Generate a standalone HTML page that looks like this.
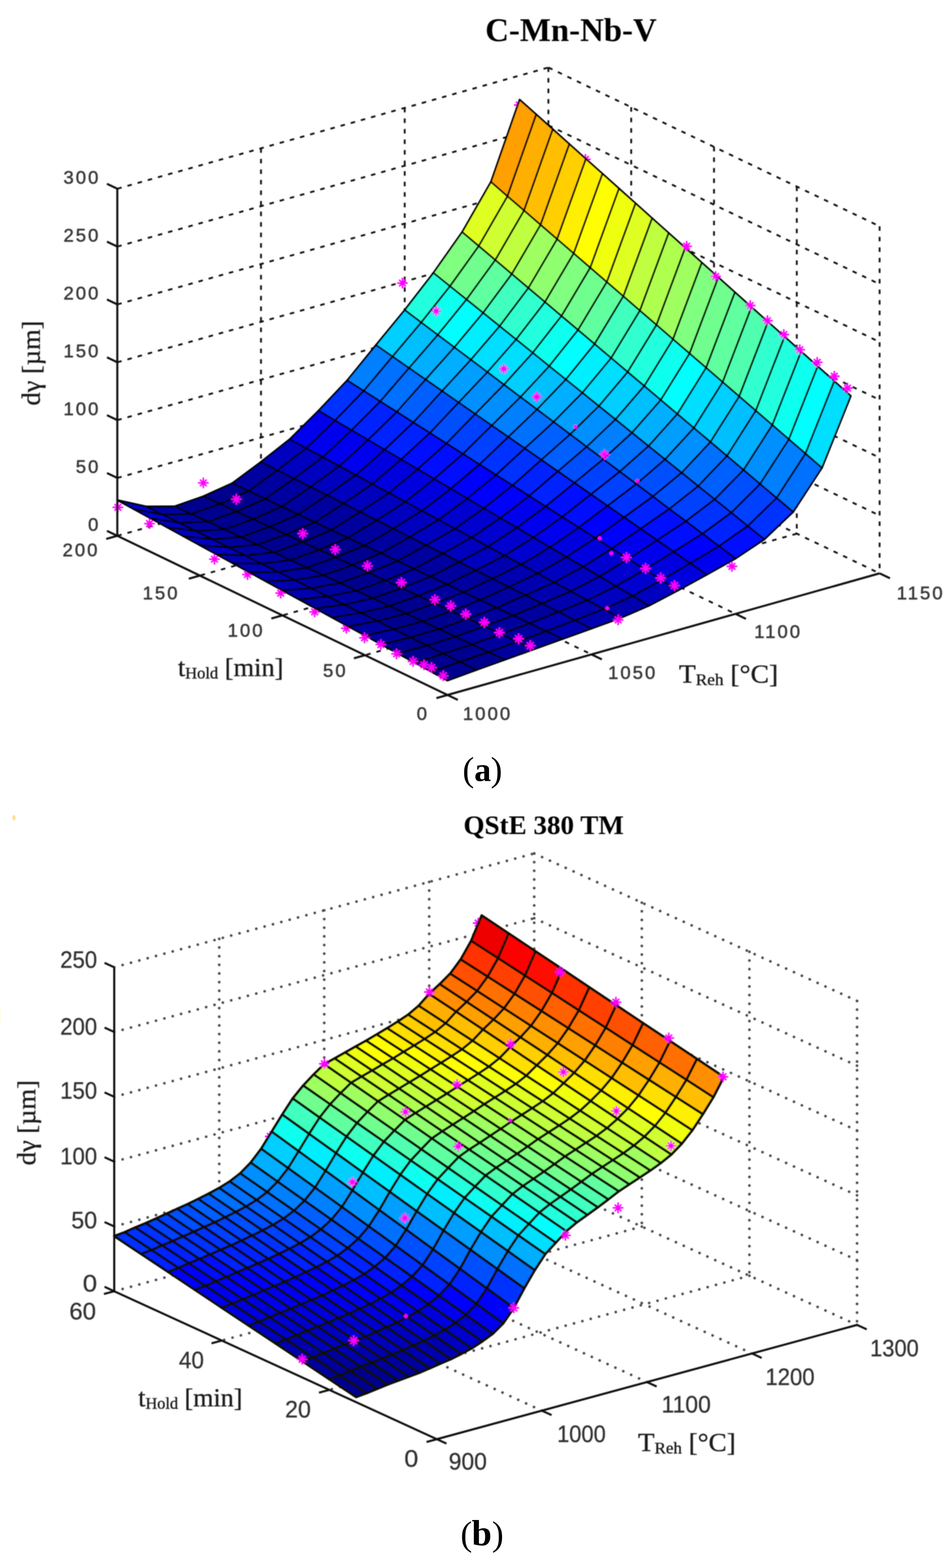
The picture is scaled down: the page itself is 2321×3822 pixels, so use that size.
<!DOCTYPE html>
<html><head><meta charset="utf-8"><title>Austenite grain size surfaces</title>
<style>
html,body{margin:0;padding:0;background:#fff;}
body{width:2321px;height:3822px;overflow:hidden;}
svg{display:block;}
.ga{stroke:#111;stroke-width:4.4;stroke-dasharray:11 14.7;fill:none;}
.gb{stroke:#4a4a4a;stroke-width:6.4;stroke-dasharray:0.1 21;stroke-linecap:round;fill:none;}
.ax{stroke:#111;stroke-width:5;fill:none;stroke-linecap:butt;}
.fa polygon{stroke:#000;stroke-width:4.4;stroke-linejoin:round;}
.fb polygon{stroke:#0a0f05;stroke-width:6;stroke-linejoin:round;}
.mk{stroke:#ff00ff;stroke-width:3.8;fill:none;stroke-linecap:butt;}
text{font-family:"Liberation Sans",sans-serif;fill:#333;}
.ta{font-size:45px;letter-spacing:5px;fill:#3a3a3a;stroke:#3a3a3a;stroke-width:1.1px;}
.tb{font-size:57px;fill:#333;stroke:#333;stroke-width:0.6px;}
.lab{font-family:"Liberation Serif",serif;font-size:64px;fill:#1a1a1a;stroke:#1a1a1a;stroke-width:0.7px;}
.sub{font-size:40px;}
.ttl{font-family:"Liberation Serif",serif;font-weight:bold;fill:#000;}
.cap{font-family:"Liberation Serif",serif;font-size:78px;fill:#000;}
</style></head>
<body>
<svg xmlns="http://www.w3.org/2000/svg" width="2321" height="3822" viewBox="0 0 2321 3822">
<rect width="2321" height="3822" fill="#fff"/>
<defs><filter id="bl" x="0" y="0" width="2321" height="3822" filterUnits="userSpaceOnUse"><feGaussianBlur stdDeviation="1.2"/></filter></defs>
<g filter="url(#bl)">
<g id="plotA">
<line class="ga" x1="286.0" y1="1306.0" x2="1337.0" y2="1010.5"/>
<line class="ga" x1="1337.0" y1="1010.5" x2="2144.5" y2="1397.5"/>
<line class="ga" x1="286.0" y1="1165.0" x2="1337.0" y2="869.5"/>
<line class="ga" x1="1337.0" y1="869.5" x2="2144.5" y2="1256.5"/>
<line class="ga" x1="286.0" y1="1024.0" x2="1337.0" y2="728.5"/>
<line class="ga" x1="1337.0" y1="728.5" x2="2144.5" y2="1115.5"/>
<line class="ga" x1="286.0" y1="883.0" x2="1337.0" y2="587.5"/>
<line class="ga" x1="1337.0" y1="587.5" x2="2144.5" y2="974.5"/>
<line class="ga" x1="286.0" y1="742.0" x2="1337.0" y2="446.5"/>
<line class="ga" x1="1337.0" y1="446.5" x2="2144.5" y2="833.5"/>
<line class="ga" x1="286.0" y1="601.0" x2="1337.0" y2="305.5"/>
<line class="ga" x1="1337.0" y1="305.5" x2="2144.5" y2="692.5"/>
<line class="ga" x1="286.0" y1="460.0" x2="1337.0" y2="164.5"/>
<line class="ga" x1="1337.0" y1="164.5" x2="2144.5" y2="551.5"/>
<line class="ga" x1="636.3" y1="361.5" x2="636.3" y2="1207.5"/>
<line class="ga" x1="636.3" y1="1207.5" x2="1442.2" y2="1595.2"/>
<line class="ga" x1="986.7" y1="263.0" x2="986.7" y2="1109.0"/>
<line class="ga" x1="986.7" y1="1109.0" x2="1793.3" y2="1496.3"/>
<line class="ga" x1="1337.0" y1="164.5" x2="1337.0" y2="1010.5"/>
<line class="ga" x1="2144.5" y1="551.5" x2="2144.5" y2="1397.5"/>
<line class="ga" x1="1942.6" y1="454.8" x2="1942.6" y2="1300.8"/>
<line class="ga" x1="1942.6" y1="1300.8" x2="889.8" y2="1597.0"/>
<line class="ga" x1="1740.8" y1="358.0" x2="1740.8" y2="1204.0"/>
<line class="ga" x1="1740.8" y1="1204.0" x2="688.5" y2="1500.0"/>
<line class="ga" x1="1538.9" y1="261.2" x2="1538.9" y2="1107.2"/>
<line class="ga" x1="1538.9" y1="1107.2" x2="487.2" y2="1403.0"/>
<path class="mk" d="M274.4 1236.6H300.4M287.4 1223.6V1249.6M279.3 1228.5L295.5 1244.7M279.3 1244.7L295.5 1228.5"/>
<circle cx="287.4" cy="1236.6" r="4.7" fill="#ff00ff"/>
<path class="mk" d="M351.6 1276.3H377.6M364.6 1263.3V1289.3M356.5 1268.2L372.7 1284.4M356.5 1284.4L372.7 1268.2"/>
<circle cx="364.6" cy="1276.3" r="4.7" fill="#ff00ff"/>
<path class="mk" d="M509.8 1362.9H535.8M522.8 1349.9V1375.9M514.7 1354.8L530.9 1371.0M514.7 1371.0L530.9 1354.8"/>
<circle cx="522.8" cy="1362.9" r="4.7" fill="#ff00ff"/>
<path class="mk" d="M590.3 1400.4H616.3M603.3 1387.4V1413.4M595.2 1392.3L611.4 1408.5M595.2 1408.5L611.4 1392.3"/>
<circle cx="603.3" cy="1400.4" r="4.7" fill="#ff00ff"/>
<path class="mk" d="M671.3 1445.7H697.3M684.3 1432.7V1458.7M676.2 1437.6L692.4 1453.8M676.2 1453.8L692.4 1437.6"/>
<circle cx="684.3" cy="1445.7" r="4.7" fill="#ff00ff"/>
<path class="mk" d="M754.1 1491.6H780.1M767.1 1478.6V1504.6M759.0 1483.5L775.2 1499.7M759.0 1499.7L775.2 1483.5"/>
<circle cx="767.1" cy="1491.6" r="4.7" fill="#ff00ff"/>
<path class="mk" d="M831.3 1531.4H857.3M844.3 1518.4V1544.4M836.2 1523.3L852.4 1539.5M836.2 1539.5L852.4 1523.3"/>
<circle cx="844.3" cy="1531.4" r="4.7" fill="#ff00ff"/>
<path class="mk" d="M1771.5 1380.5H1797.5M1784.5 1367.5V1393.5M1776.4 1372.4L1792.6 1388.6M1776.4 1388.6L1792.6 1372.4"/>
<circle cx="1784.5" cy="1380.5" r="4.7" fill="#ff00ff"/>
<path class="mk" d="M1253.0 256.0H1279.0M1266.0 243.0V269.0M1257.9 247.9L1274.1 264.1M1257.9 264.1L1274.1 247.9"/>
<circle cx="1266.0" cy="256.0" r="4.7" fill="#ff00ff"/>
<path class="mk" d="M1414.3 388.4H1440.3M1427.3 375.4V401.4M1419.2 380.3L1435.4 396.5M1419.2 396.5L1435.4 380.3"/>
<circle cx="1427.3" cy="388.4" r="4.7" fill="#ff00ff"/>
<g class="fa"><polygon fill="#ff9f00" points="1237.2,478.3 1307.3,278.9 1266.9,242.8 1196.9,443.4"/><polygon fill="#ffaf00" points="1277.6,513.1 1347.7,315.0 1307.3,278.9 1237.2,478.3"/><polygon fill="#ffbf00" points="1317.9,548.0 1388.0,351.2 1347.7,315.0 1277.6,513.1"/><polygon fill="#ffcf00" points="1358.3,582.8 1428.4,387.3 1388.0,351.2 1317.9,548.0"/><polygon fill="#ffef00" points="1398.7,617.7 1468.8,423.4 1428.4,387.3 1358.3,582.8"/><polygon fill="#ffff00" points="1439.0,652.5 1509.1,459.5 1468.8,423.4 1398.7,617.7"/><polygon fill="#efff10" points="1479.4,687.4 1549.5,495.6 1509.1,459.5 1439.0,652.5"/><polygon fill="#dfff20" points="1519.7,722.2 1589.9,531.8 1549.5,495.6 1479.4,687.4"/><polygon fill="#bfff40" points="1560.1,757.1 1630.2,567.9 1589.9,531.8 1519.7,722.2"/><polygon fill="#afff50" points="1600.5,791.9 1670.6,604.0 1630.2,567.9 1560.1,757.1"/><polygon fill="#9fff60" points="1640.8,826.8 1711.0,640.1 1670.6,604.0 1600.5,791.9"/><polygon fill="#80ff80" points="1681.2,861.6 1751.3,676.2 1711.0,640.1 1640.8,826.8"/><polygon fill="#70ff8f" points="1721.5,896.4 1791.7,712.4 1751.3,676.2 1681.2,861.6"/><polygon fill="#60ff9f" points="1761.9,931.3 1832.1,748.5 1791.7,712.4 1721.5,896.4"/><polygon fill="#50ffaf" points="1802.2,966.1 1872.4,784.6 1832.1,748.5 1761.9,931.3"/><polygon fill="#30ffcf" points="1842.6,1001.0 1912.8,820.7 1872.4,784.6 1802.2,966.1"/><polygon fill="#20ffdf" points="1883.0,1035.8 1953.2,856.8 1912.8,820.7 1842.6,1001.0"/><polygon fill="#10ffef" points="1923.3,1070.7 1993.5,893.0 1953.2,856.8 1883.0,1035.8"/><polygon fill="#00ffff" points="1963.7,1105.5 2033.9,929.1 1993.5,893.0 1923.3,1070.7"/><polygon fill="#00dfff" points="2004.0,1140.4 2074.3,965.2 2033.9,929.1 1963.7,1105.5"/><polygon fill="#dfff20" points="1167.2,599.7 1237.2,478.3 1196.9,443.4 1126.8,565.6"/><polygon fill="#cfff30" points="1207.5,633.8 1277.6,513.1 1237.2,478.3 1167.2,599.7"/><polygon fill="#bfff40" points="1247.8,667.9 1317.9,548.0 1277.6,513.1 1207.5,633.8"/><polygon fill="#9fff60" points="1288.2,702.0 1358.3,582.8 1317.9,548.0 1247.8,667.9"/><polygon fill="#8fff70" points="1328.6,736.1 1398.7,617.7 1358.3,582.8 1288.2,702.0"/><polygon fill="#80ff80" points="1368.9,770.2 1439.0,652.5 1398.7,617.7 1328.6,736.1"/><polygon fill="#70ff8f" points="1409.2,804.3 1479.4,687.4 1439.0,652.5 1368.9,770.2"/><polygon fill="#60ff9f" points="1449.6,838.5 1519.7,722.2 1479.4,687.4 1409.2,804.3"/><polygon fill="#40ffbf" points="1490.0,872.6 1560.1,757.1 1519.7,722.2 1449.6,838.5"/><polygon fill="#30ffcf" points="1530.3,906.7 1600.5,791.9 1560.1,757.1 1490.0,872.6"/><polygon fill="#20ffdf" points="1570.7,940.8 1640.8,826.8 1600.5,791.9 1530.3,906.7"/><polygon fill="#10ffef" points="1611.0,974.9 1681.2,861.6 1640.8,826.8 1570.7,940.8"/><polygon fill="#00ffff" points="1651.3,1009.0 1721.5,896.4 1681.2,861.6 1611.0,974.9"/><polygon fill="#00dfff" points="1691.7,1043.1 1761.9,931.3 1721.5,896.4 1651.3,1009.0"/><polygon fill="#00cfff" points="1732.1,1077.2 1802.2,966.1 1761.9,931.3 1691.7,1043.1"/><polygon fill="#00bfff" points="1772.4,1111.3 1842.6,1001.0 1802.2,966.1 1732.1,1077.2"/><polygon fill="#00afff" points="1812.8,1145.5 1883.0,1035.8 1842.6,1001.0 1772.4,1111.3"/><polygon fill="#008fff" points="1853.1,1179.6 1923.3,1070.7 1883.0,1035.8 1812.8,1145.5"/><polygon fill="#0080ff" points="1893.4,1213.7 1963.7,1105.5 1923.3,1070.7 1853.1,1179.6"/><polygon fill="#0070ff" points="1933.8,1247.8 2004.0,1140.4 1963.7,1105.5 1893.4,1213.7"/><polygon fill="#80ff80" points="1097.1,697.6 1167.2,599.7 1126.8,565.6 1056.7,665.1"/><polygon fill="#70ff8f" points="1137.4,730.0 1207.5,633.8 1167.2,599.7 1097.1,697.6"/><polygon fill="#60ff9f" points="1177.8,762.5 1247.8,667.9 1207.5,633.8 1137.4,730.0"/><polygon fill="#40ffbf" points="1218.1,795.0 1288.2,702.0 1247.8,667.9 1177.8,762.5"/><polygon fill="#30ffcf" points="1258.4,827.4 1328.6,736.1 1288.2,702.0 1218.1,795.0"/><polygon fill="#20ffdf" points="1298.8,859.9 1368.9,770.2 1328.6,736.1 1258.4,827.4"/><polygon fill="#10ffef" points="1339.1,892.4 1409.2,804.3 1368.9,770.2 1298.8,859.9"/><polygon fill="#00ffff" points="1379.5,924.9 1449.6,838.5 1409.2,804.3 1339.1,892.4"/><polygon fill="#00efff" points="1419.8,957.3 1490.0,872.6 1449.6,838.5 1379.5,924.9"/><polygon fill="#00dfff" points="1460.1,989.8 1530.3,906.7 1490.0,872.6 1419.8,957.3"/><polygon fill="#00cfff" points="1500.5,1022.3 1570.7,940.8 1530.3,906.7 1460.1,989.8"/><polygon fill="#00bfff" points="1540.8,1054.8 1611.0,974.9 1570.7,940.8 1500.5,1022.3"/><polygon fill="#00afff" points="1581.2,1087.2 1651.3,1009.0 1611.0,974.9 1540.8,1054.8"/><polygon fill="#009fff" points="1621.5,1119.7 1691.7,1043.1 1651.3,1009.0 1581.2,1087.2"/><polygon fill="#008fff" points="1661.9,1152.2 1732.1,1077.2 1691.7,1043.1 1621.5,1119.7"/><polygon fill="#0070ff" points="1702.2,1184.7 1772.4,1111.3 1732.1,1077.2 1661.9,1152.2"/><polygon fill="#0060ff" points="1742.5,1217.1 1812.8,1145.5 1772.4,1111.3 1702.2,1184.7"/><polygon fill="#0050ff" points="1782.9,1249.6 1853.1,1179.6 1812.8,1145.5 1742.5,1217.1"/><polygon fill="#0040ff" points="1823.2,1282.1 1893.4,1213.7 1853.1,1179.6 1782.9,1249.6"/><polygon fill="#0030ff" points="1863.6,1314.6 1933.8,1247.8 1893.4,1213.7 1823.2,1282.1"/><polygon fill="#20ffdf" points="1027.0,785.9 1097.1,697.6 1056.7,665.1 986.7,755.6"/><polygon fill="#10ffef" points="1067.3,816.2 1137.4,730.0 1097.1,697.6 1027.0,785.9"/><polygon fill="#00ffff" points="1107.7,846.5 1177.8,762.5 1137.4,730.0 1067.3,816.2"/><polygon fill="#00efff" points="1148.0,876.8 1218.1,795.0 1177.8,762.5 1107.7,846.5"/><polygon fill="#00dfff" points="1188.3,907.1 1258.4,827.4 1218.1,795.0 1148.0,876.8"/><polygon fill="#00dfff" points="1228.7,937.4 1298.8,859.9 1258.4,827.4 1188.3,907.1"/><polygon fill="#00cfff" points="1269.0,967.7 1339.1,892.4 1298.8,859.9 1228.7,937.4"/><polygon fill="#00bfff" points="1309.3,998.0 1379.5,924.9 1339.1,892.4 1269.0,967.7"/><polygon fill="#00afff" points="1349.7,1028.3 1419.8,957.3 1379.5,924.9 1309.3,998.0"/><polygon fill="#009fff" points="1390.0,1058.6 1460.1,989.8 1419.8,957.3 1349.7,1028.3"/><polygon fill="#008fff" points="1430.3,1088.9 1500.5,1022.3 1460.1,989.8 1390.0,1058.6"/><polygon fill="#0080ff" points="1470.7,1119.2 1540.8,1054.8 1500.5,1022.3 1430.3,1088.9"/><polygon fill="#0070ff" points="1511.0,1149.5 1581.2,1087.2 1540.8,1054.8 1470.7,1119.2"/><polygon fill="#0060ff" points="1551.3,1179.8 1621.5,1119.7 1581.2,1087.2 1511.0,1149.5"/><polygon fill="#0050ff" points="1591.7,1210.1 1661.9,1152.2 1621.5,1119.7 1551.3,1179.8"/><polygon fill="#0050ff" points="1632.0,1240.4 1702.2,1184.7 1661.9,1152.2 1591.7,1210.1"/><polygon fill="#0040ff" points="1672.3,1270.6 1742.5,1217.1 1702.2,1184.7 1632.0,1240.4"/><polygon fill="#0030ff" points="1712.7,1300.9 1782.9,1249.6 1742.5,1217.1 1672.3,1270.6"/><polygon fill="#0020ff" points="1753.0,1331.2 1823.2,1282.1 1782.9,1249.6 1712.7,1300.9"/><polygon fill="#0010ff" points="1793.3,1361.5 1863.6,1314.6 1823.2,1282.1 1753.0,1331.2"/><polygon fill="#00cfff" points="956.9,869.0 1027.0,785.9 986.7,755.6 916.6,841.0"/><polygon fill="#00bfff" points="997.2,897.0 1067.3,816.2 1027.0,785.9 956.9,869.0"/><polygon fill="#00afff" points="1037.6,925.0 1107.7,846.5 1067.3,816.2 997.2,897.0"/><polygon fill="#00afff" points="1077.9,953.0 1148.0,876.8 1107.7,846.5 1037.6,925.0"/><polygon fill="#009fff" points="1118.2,981.0 1188.3,907.1 1148.0,876.8 1077.9,953.0"/><polygon fill="#008fff" points="1158.5,1009.0 1228.7,937.4 1188.3,907.1 1118.2,981.0"/><polygon fill="#008fff" points="1198.9,1037.0 1269.0,967.7 1228.7,937.4 1158.5,1009.0"/><polygon fill="#0080ff" points="1239.2,1064.9 1309.3,998.0 1269.0,967.7 1198.9,1037.0"/><polygon fill="#0070ff" points="1279.5,1092.9 1349.7,1028.3 1309.3,998.0 1239.2,1064.9"/><polygon fill="#0060ff" points="1319.8,1120.9 1390.0,1058.6 1349.7,1028.3 1279.5,1092.9"/><polygon fill="#0060ff" points="1360.2,1148.9 1430.3,1088.9 1390.0,1058.6 1319.8,1120.9"/><polygon fill="#0050ff" points="1400.5,1176.9 1470.7,1119.2 1430.3,1088.9 1360.2,1148.9"/><polygon fill="#0040ff" points="1440.8,1204.9 1511.0,1149.5 1470.7,1119.2 1400.5,1176.9"/><polygon fill="#0040ff" points="1481.1,1232.9 1551.3,1179.8 1511.0,1149.5 1440.8,1204.9"/><polygon fill="#0030ff" points="1521.5,1260.9 1591.7,1210.1 1551.3,1179.8 1481.1,1232.9"/><polygon fill="#0020ff" points="1561.8,1288.9 1632.0,1240.4 1591.7,1210.1 1521.5,1260.9"/><polygon fill="#0010ff" points="1602.1,1316.9 1672.3,1270.6 1632.0,1240.4 1561.8,1288.9"/><polygon fill="#0010ff" points="1642.5,1344.9 1712.7,1300.9 1672.3,1270.6 1602.1,1316.9"/><polygon fill="#0000ff" points="1682.8,1372.9 1753.0,1331.2 1712.7,1300.9 1642.5,1344.9"/><polygon fill="#0000ef" points="1723.1,1400.9 1793.3,1361.5 1753.0,1331.2 1682.8,1372.9"/><polygon fill="#0080ff" points="886.8,952.7 956.9,869.0 916.6,841.0 846.5,927.1"/><polygon fill="#0070ff" points="927.2,978.3 997.2,897.0 956.9,869.0 886.8,952.7"/><polygon fill="#0070ff" points="967.5,1003.9 1037.6,925.0 997.2,897.0 927.2,978.3"/><polygon fill="#0060ff" points="1007.8,1029.5 1077.9,953.0 1037.6,925.0 967.5,1003.9"/><polygon fill="#0050ff" points="1048.1,1055.2 1118.2,981.0 1077.9,953.0 1007.8,1029.5"/><polygon fill="#0050ff" points="1088.4,1080.8 1158.5,1009.0 1118.2,981.0 1048.1,1055.2"/><polygon fill="#0040ff" points="1128.8,1106.4 1198.9,1037.0 1158.5,1009.0 1088.4,1080.8"/><polygon fill="#0040ff" points="1169.1,1132.0 1239.2,1064.9 1198.9,1037.0 1128.8,1106.4"/><polygon fill="#0030ff" points="1209.4,1157.6 1279.5,1092.9 1239.2,1064.9 1169.1,1132.0"/><polygon fill="#0030ff" points="1249.7,1183.2 1319.8,1120.9 1279.5,1092.9 1209.4,1157.6"/><polygon fill="#0020ff" points="1290.0,1208.8 1360.2,1148.9 1319.8,1120.9 1249.7,1183.2"/><polygon fill="#0020ff" points="1330.3,1234.5 1400.5,1176.9 1360.2,1148.9 1290.0,1208.8"/><polygon fill="#0010ff" points="1370.7,1260.1 1440.8,1204.9 1400.5,1176.9 1330.3,1234.5"/><polygon fill="#0010ff" points="1411.0,1285.7 1481.1,1232.9 1440.8,1204.9 1370.7,1260.1"/><polygon fill="#0000ff" points="1451.3,1311.3 1521.5,1260.9 1481.1,1232.9 1411.0,1285.7"/><polygon fill="#0000ff" points="1491.6,1336.9 1561.8,1288.9 1521.5,1260.9 1451.3,1311.3"/><polygon fill="#0000ef" points="1531.9,1362.5 1602.1,1316.9 1561.8,1288.9 1491.6,1336.9"/><polygon fill="#0000ef" points="1572.2,1388.1 1642.5,1344.9 1602.1,1316.9 1531.9,1362.5"/><polygon fill="#0000df" points="1612.5,1413.7 1682.8,1372.9 1642.5,1344.9 1572.2,1388.1"/><polygon fill="#0000df" points="1652.9,1439.4 1723.1,1400.9 1682.8,1372.9 1612.5,1413.7"/><polygon fill="#0030ff" points="816.8,1024.8 886.8,952.7 846.5,927.1 776.5,1001.0"/><polygon fill="#0030ff" points="857.1,1048.6 927.2,978.3 886.8,952.7 816.8,1024.8"/><polygon fill="#0020ff" points="897.4,1072.3 967.5,1003.9 927.2,978.3 857.1,1048.6"/><polygon fill="#0020ff" points="937.7,1096.1 1007.8,1029.5 967.5,1003.9 897.4,1072.3"/><polygon fill="#0020ff" points="978.0,1119.9 1048.1,1055.2 1007.8,1029.5 937.7,1096.1"/><polygon fill="#0010ff" points="1018.3,1143.6 1088.4,1080.8 1048.1,1055.2 978.0,1119.9"/><polygon fill="#0010ff" points="1058.6,1167.4 1128.8,1106.4 1088.4,1080.8 1018.3,1143.6"/><polygon fill="#0010ff" points="1098.9,1191.2 1169.1,1132.0 1128.8,1106.4 1058.6,1167.4"/><polygon fill="#0000ff" points="1139.2,1214.9 1209.4,1157.6 1169.1,1132.0 1098.9,1191.2"/><polygon fill="#0000ff" points="1179.5,1238.7 1249.7,1183.2 1209.4,1157.6 1139.2,1214.9"/><polygon fill="#0000ff" points="1219.9,1262.4 1290.0,1208.8 1249.7,1183.2 1179.5,1238.7"/><polygon fill="#0000ef" points="1260.2,1286.2 1330.3,1234.5 1290.0,1208.8 1219.9,1262.4"/><polygon fill="#0000ef" points="1300.5,1310.0 1370.7,1260.1 1330.3,1234.5 1260.2,1286.2"/><polygon fill="#0000ef" points="1340.8,1333.7 1411.0,1285.7 1370.7,1260.1 1300.5,1310.0"/><polygon fill="#0000df" points="1381.1,1357.5 1451.3,1311.3 1411.0,1285.7 1340.8,1333.7"/><polygon fill="#0000df" points="1421.4,1381.3 1491.6,1336.9 1451.3,1311.3 1381.1,1357.5"/><polygon fill="#0000cf" points="1461.7,1405.0 1531.9,1362.5 1491.6,1336.9 1421.4,1381.3"/><polygon fill="#0000cf" points="1502.0,1428.8 1572.2,1388.1 1531.9,1362.5 1461.7,1405.0"/><polygon fill="#0000cf" points="1542.3,1452.6 1612.5,1413.7 1572.2,1388.1 1502.0,1428.8"/><polygon fill="#0000bf" points="1582.6,1476.3 1652.9,1439.4 1612.5,1413.7 1542.3,1452.6"/><polygon fill="#0000ef" points="746.7,1092.4 816.8,1024.8 776.5,1001.0 706.4,1070.6"/><polygon fill="#0000ef" points="787.0,1114.2 857.1,1048.6 816.8,1024.8 746.7,1092.4"/><polygon fill="#0000ef" points="827.3,1136.0 897.4,1072.3 857.1,1048.6 787.0,1114.2"/><polygon fill="#0000ef" points="867.6,1157.8 937.7,1096.1 897.4,1072.3 827.3,1136.0"/><polygon fill="#0000df" points="907.9,1179.6 978.0,1119.9 937.7,1096.1 867.6,1157.8"/><polygon fill="#0000df" points="948.2,1201.4 1018.3,1143.6 978.0,1119.9 907.9,1179.6"/><polygon fill="#0000df" points="988.5,1223.2 1058.6,1167.4 1018.3,1143.6 948.2,1201.4"/><polygon fill="#0000df" points="1028.8,1245.0 1098.9,1191.2 1058.6,1167.4 988.5,1223.2"/><polygon fill="#0000df" points="1069.1,1266.8 1139.2,1214.9 1098.9,1191.2 1028.8,1245.0"/><polygon fill="#0000cf" points="1109.4,1288.6 1179.5,1238.7 1139.2,1214.9 1069.1,1266.8"/><polygon fill="#0000cf" points="1149.7,1310.4 1219.9,1262.4 1179.5,1238.7 1109.4,1288.6"/><polygon fill="#0000cf" points="1190.0,1332.2 1260.2,1286.2 1219.9,1262.4 1149.7,1310.4"/><polygon fill="#0000cf" points="1230.3,1354.0 1300.5,1310.0 1260.2,1286.2 1190.0,1332.2"/><polygon fill="#0000cf" points="1270.6,1375.8 1340.8,1333.7 1300.5,1310.0 1230.3,1354.0"/><polygon fill="#0000bf" points="1310.9,1397.6 1381.1,1357.5 1340.8,1333.7 1270.6,1375.8"/><polygon fill="#0000bf" points="1351.2,1419.4 1421.4,1381.3 1381.1,1357.5 1310.9,1397.6"/><polygon fill="#0000bf" points="1391.5,1441.2 1461.7,1405.0 1421.4,1381.3 1351.2,1419.4"/><polygon fill="#0000bf" points="1431.8,1463.0 1502.0,1428.8 1461.7,1405.0 1391.5,1441.2"/><polygon fill="#0000bf" points="1472.1,1484.8 1542.3,1452.6 1502.0,1428.8 1431.8,1463.0"/><polygon fill="#0000af" points="1512.4,1506.6 1582.6,1476.3 1542.3,1452.6 1472.1,1484.8"/><polygon fill="#0000bf" points="676.6,1146.1 746.7,1092.4 706.4,1070.6 636.3,1125.7"/><polygon fill="#0000bf" points="716.9,1166.4 787.0,1114.2 746.7,1092.4 676.6,1146.1"/><polygon fill="#0000bf" points="757.2,1186.7 827.3,1136.0 787.0,1114.2 716.9,1166.4"/><polygon fill="#0000bf" points="797.5,1207.0 867.6,1157.8 827.3,1136.0 757.2,1186.7"/><polygon fill="#0000bf" points="837.8,1227.3 907.9,1179.6 867.6,1157.8 797.5,1207.0"/><polygon fill="#0000bf" points="878.1,1247.6 948.2,1201.4 907.9,1179.6 837.8,1227.3"/><polygon fill="#0000bf" points="918.4,1268.0 988.5,1223.2 948.2,1201.4 878.1,1247.6"/><polygon fill="#0000bf" points="958.7,1288.3 1028.8,1245.0 988.5,1223.2 918.4,1268.0"/><polygon fill="#0000bf" points="999.0,1308.6 1069.1,1266.8 1028.8,1245.0 958.7,1288.3"/><polygon fill="#0000bf" points="1039.2,1328.9 1109.4,1288.6 1069.1,1266.8 999.0,1308.6"/><polygon fill="#0000bf" points="1079.5,1349.2 1149.7,1310.4 1109.4,1288.6 1039.2,1328.9"/><polygon fill="#0000bf" points="1119.8,1369.5 1190.0,1332.2 1149.7,1310.4 1079.5,1349.2"/><polygon fill="#0000bf" points="1160.1,1389.9 1230.3,1354.0 1190.0,1332.2 1119.8,1369.5"/><polygon fill="#0000af" points="1200.4,1410.2 1270.6,1375.8 1230.3,1354.0 1160.1,1389.9"/><polygon fill="#0000af" points="1240.7,1430.5 1310.9,1397.6 1270.6,1375.8 1200.4,1410.2"/><polygon fill="#0000af" points="1281.0,1450.8 1351.2,1419.4 1310.9,1397.6 1240.7,1430.5"/><polygon fill="#0000af" points="1321.3,1471.1 1391.5,1441.2 1351.2,1419.4 1281.0,1450.8"/><polygon fill="#0000af" points="1361.6,1491.4 1431.8,1463.0 1391.5,1441.2 1321.3,1471.1"/><polygon fill="#0000af" points="1401.9,1511.8 1472.1,1484.8 1431.8,1463.0 1361.6,1491.4"/><polygon fill="#0000af" points="1442.2,1532.1 1512.4,1506.6 1472.1,1484.8 1401.9,1511.8"/><polygon fill="#00009f" points="606.5,1196.8 676.6,1146.1 636.3,1125.7 566.3,1177.8"/><polygon fill="#00009f" points="646.8,1215.8 716.9,1166.4 676.6,1146.1 606.5,1196.8"/><polygon fill="#00009f" points="687.1,1234.7 757.2,1186.7 716.9,1166.4 646.8,1215.8"/><polygon fill="#00009f" points="727.4,1253.7 797.5,1207.0 757.2,1186.7 687.1,1234.7"/><polygon fill="#00009f" points="767.7,1272.7 837.8,1227.3 797.5,1207.0 727.4,1253.7"/><polygon fill="#00009f" points="808.0,1291.7 878.1,1247.6 837.8,1227.3 767.7,1272.7"/><polygon fill="#00009f" points="848.2,1310.7 918.4,1268.0 878.1,1247.6 808.0,1291.7"/><polygon fill="#00009f" points="888.5,1329.6 958.7,1288.3 918.4,1268.0 848.2,1310.7"/><polygon fill="#00009f" points="928.8,1348.6 999.0,1308.6 958.7,1288.3 888.5,1329.6"/><polygon fill="#00009f" points="969.1,1367.6 1039.2,1328.9 999.0,1308.6 928.8,1348.6"/><polygon fill="#00009f" points="1009.4,1386.6 1079.5,1349.2 1039.2,1328.9 969.1,1367.6"/><polygon fill="#00009f" points="1049.7,1405.5 1119.8,1369.5 1079.5,1349.2 1009.4,1386.6"/><polygon fill="#00009f" points="1090.0,1424.5 1160.1,1389.9 1119.8,1369.5 1049.7,1405.5"/><polygon fill="#00009f" points="1130.2,1443.5 1200.4,1410.2 1160.1,1389.9 1090.0,1424.5"/><polygon fill="#00009f" points="1170.5,1462.5 1240.7,1430.5 1200.4,1410.2 1130.2,1443.5"/><polygon fill="#00009f" points="1210.8,1481.5 1281.0,1450.8 1240.7,1430.5 1170.5,1462.5"/><polygon fill="#00009f" points="1251.1,1500.4 1321.3,1471.1 1281.0,1450.8 1210.8,1481.5"/><polygon fill="#00009f" points="1291.4,1519.4 1361.6,1491.4 1321.3,1471.1 1251.1,1500.4"/><polygon fill="#0000af" points="1331.6,1538.4 1401.9,1511.8 1361.6,1491.4 1291.4,1519.4"/><polygon fill="#0000af" points="1371.9,1557.4 1442.2,1532.1 1401.9,1511.8 1331.6,1538.4"/><polygon fill="#00008f" points="536.5,1228.1 606.5,1196.8 566.3,1177.8 496.2,1209.5"/><polygon fill="#00008f" points="576.8,1246.8 646.8,1215.8 606.5,1196.8 536.5,1228.1"/><polygon fill="#00008f" points="617.0,1265.4 687.1,1234.7 646.8,1215.8 576.8,1246.8"/><polygon fill="#00008f" points="657.3,1284.1 727.4,1253.7 687.1,1234.7 617.0,1265.4"/><polygon fill="#00008f" points="697.6,1302.8 767.7,1272.7 727.4,1253.7 657.3,1284.1"/><polygon fill="#00008f" points="737.8,1321.4 808.0,1291.7 767.7,1272.7 697.6,1302.8"/><polygon fill="#00008f" points="778.1,1340.1 848.2,1310.7 808.0,1291.7 737.8,1321.4"/><polygon fill="#00008f" points="818.4,1358.7 888.5,1329.6 848.2,1310.7 778.1,1340.1"/><polygon fill="#00008f" points="858.7,1377.4 928.8,1348.6 888.5,1329.6 818.4,1358.7"/><polygon fill="#00009f" points="899.0,1396.1 969.1,1367.6 928.8,1348.6 858.7,1377.4"/><polygon fill="#00009f" points="939.2,1414.7 1009.4,1386.6 969.1,1367.6 899.0,1396.1"/><polygon fill="#00009f" points="979.5,1433.4 1049.7,1405.5 1009.4,1386.6 939.2,1414.7"/><polygon fill="#00009f" points="1019.8,1452.1 1090.0,1424.5 1049.7,1405.5 979.5,1433.4"/><polygon fill="#00009f" points="1060.0,1470.7 1130.2,1443.5 1090.0,1424.5 1019.8,1452.1"/><polygon fill="#00009f" points="1100.3,1489.4 1170.5,1462.5 1130.2,1443.5 1060.0,1470.7"/><polygon fill="#00009f" points="1140.6,1508.0 1210.8,1481.5 1170.5,1462.5 1100.3,1489.4"/><polygon fill="#00009f" points="1180.9,1526.7 1251.1,1500.4 1210.8,1481.5 1140.6,1508.0"/><polygon fill="#00009f" points="1221.2,1545.4 1291.4,1519.4 1251.1,1500.4 1180.9,1526.7"/><polygon fill="#00009f" points="1261.4,1564.0 1331.6,1538.4 1291.4,1519.4 1221.2,1545.4"/><polygon fill="#00009f" points="1301.7,1582.7 1371.9,1557.4 1331.6,1538.4 1261.4,1564.0"/><polygon fill="#00008f" points="466.4,1252.8 536.5,1228.1 496.2,1209.5 426.1,1234.1"/><polygon fill="#00008f" points="506.7,1271.5 576.8,1246.8 536.5,1228.1 466.4,1252.8"/><polygon fill="#00008f" points="546.9,1290.2 617.0,1265.4 576.8,1246.8 506.7,1271.5"/><polygon fill="#00008f" points="587.2,1308.9 657.3,1284.1 617.0,1265.4 546.9,1290.2"/><polygon fill="#00008f" points="627.5,1327.6 697.6,1302.8 657.3,1284.1 587.2,1308.9"/><polygon fill="#00008f" points="667.7,1346.3 737.8,1321.4 697.6,1302.8 627.5,1327.6"/><polygon fill="#00008f" points="708.0,1365.0 778.1,1340.1 737.8,1321.4 667.7,1346.3"/><polygon fill="#00008f" points="748.3,1383.7 818.4,1358.7 778.1,1340.1 708.0,1365.0"/><polygon fill="#00008f" points="788.5,1402.3 858.7,1377.4 818.4,1358.7 748.3,1383.7"/><polygon fill="#00008f" points="828.8,1421.0 899.0,1396.1 858.7,1377.4 788.5,1402.3"/><polygon fill="#00008f" points="869.1,1439.7 939.2,1414.7 899.0,1396.1 828.8,1421.0"/><polygon fill="#00008f" points="909.3,1458.4 979.5,1433.4 939.2,1414.7 869.1,1439.7"/><polygon fill="#00008f" points="949.6,1477.1 1019.8,1452.1 979.5,1433.4 909.3,1458.4"/><polygon fill="#00008f" points="989.9,1495.8 1060.0,1470.7 1019.8,1452.1 949.6,1477.1"/><polygon fill="#00008f" points="1030.1,1514.5 1100.3,1489.4 1060.0,1470.7 989.9,1495.8"/><polygon fill="#00008f" points="1070.4,1533.2 1140.6,1508.0 1100.3,1489.4 1030.1,1514.5"/><polygon fill="#00008f" points="1110.7,1551.9 1180.9,1526.7 1140.6,1508.0 1070.4,1533.2"/><polygon fill="#00009f" points="1150.9,1570.6 1221.2,1545.4 1180.9,1526.7 1110.7,1551.9"/><polygon fill="#00009f" points="1191.2,1589.3 1261.4,1564.0 1221.2,1545.4 1150.9,1570.6"/><polygon fill="#00009f" points="1231.5,1608.0 1301.7,1582.7 1261.4,1564.0 1191.2,1589.3"/><polygon fill="#00009f" points="396.3,1254.4 466.4,1252.8 426.1,1234.1 356.1,1234.5"/><polygon fill="#00009f" points="436.6,1274.4 506.7,1271.5 466.4,1252.8 396.3,1254.4"/><polygon fill="#00009f" points="476.8,1294.3 546.9,1290.2 506.7,1271.5 436.6,1274.4"/><polygon fill="#00009f" points="517.1,1314.3 587.2,1308.9 546.9,1290.2 476.8,1294.3"/><polygon fill="#00009f" points="557.4,1334.2 627.5,1327.6 587.2,1308.9 517.1,1314.3"/><polygon fill="#00009f" points="597.6,1354.1 667.7,1346.3 627.5,1327.6 557.4,1334.2"/><polygon fill="#00009f" points="637.9,1374.1 708.0,1365.0 667.7,1346.3 597.6,1354.1"/><polygon fill="#00009f" points="678.1,1394.0 748.3,1383.7 708.0,1365.0 637.9,1374.1"/><polygon fill="#00009f" points="718.4,1413.9 788.5,1402.3 748.3,1383.7 678.1,1394.0"/><polygon fill="#00009f" points="758.7,1433.9 828.8,1421.0 788.5,1402.3 718.4,1413.9"/><polygon fill="#00009f" points="798.9,1453.8 869.1,1439.7 828.8,1421.0 758.7,1433.9"/><polygon fill="#00009f" points="839.2,1473.8 909.3,1458.4 869.1,1439.7 798.9,1453.8"/><polygon fill="#00009f" points="879.4,1493.7 949.6,1477.1 909.3,1458.4 839.2,1473.8"/><polygon fill="#00008f" points="919.7,1513.6 989.9,1495.8 949.6,1477.1 879.4,1493.7"/><polygon fill="#00008f" points="959.9,1533.6 1030.1,1514.5 989.9,1495.8 919.7,1513.6"/><polygon fill="#00008f" points="1000.2,1553.5 1070.4,1533.2 1030.1,1514.5 959.9,1533.6"/><polygon fill="#00008f" points="1040.5,1573.5 1110.7,1551.9 1070.4,1533.2 1000.2,1553.5"/><polygon fill="#00008f" points="1080.7,1593.4 1150.9,1570.6 1110.7,1551.9 1040.5,1573.5"/><polygon fill="#00008f" points="1121.0,1613.3 1191.2,1589.3 1150.9,1570.6 1080.7,1593.4"/><polygon fill="#00008f" points="1161.2,1633.3 1231.5,1608.0 1191.2,1589.3 1121.0,1613.3"/><polygon fill="#0000cf" points="326.2,1241.0 396.3,1254.4 356.1,1234.5 286.0,1219.0"/><polygon fill="#0000cf" points="366.5,1263.0 436.6,1274.4 396.3,1254.4 326.2,1241.0"/><polygon fill="#0000bf" points="406.8,1285.0 476.8,1294.3 436.6,1274.4 366.5,1263.0"/><polygon fill="#0000bf" points="447.0,1307.0 517.1,1314.3 476.8,1294.3 406.8,1285.0"/><polygon fill="#0000bf" points="487.2,1329.0 557.4,1334.2 517.1,1314.3 447.0,1307.0"/><polygon fill="#0000bf" points="527.5,1351.0 597.6,1354.1 557.4,1334.2 487.2,1329.0"/><polygon fill="#0000af" points="567.8,1373.0 637.9,1374.1 597.6,1354.1 527.5,1351.0"/><polygon fill="#0000af" points="608.0,1395.0 678.1,1394.0 637.9,1374.1 567.8,1373.0"/><polygon fill="#0000af" points="648.2,1417.0 718.4,1413.9 678.1,1394.0 608.0,1395.0"/><polygon fill="#0000af" points="688.5,1439.0 758.7,1433.9 718.4,1413.9 648.2,1417.0"/><polygon fill="#0000af" points="728.8,1461.0 798.9,1453.8 758.7,1433.9 688.5,1439.0"/><polygon fill="#00009f" points="769.0,1483.0 839.2,1473.8 798.9,1453.8 728.8,1461.0"/><polygon fill="#00009f" points="809.2,1505.0 879.4,1493.7 839.2,1473.8 769.0,1483.0"/><polygon fill="#00009f" points="849.5,1527.0 919.7,1513.6 879.4,1493.7 809.2,1505.0"/><polygon fill="#00009f" points="889.8,1549.0 959.9,1533.6 919.7,1513.6 849.5,1527.0"/><polygon fill="#00009f" points="930.0,1571.0 1000.2,1553.5 959.9,1533.6 889.8,1549.0"/><polygon fill="#00008f" points="970.2,1593.0 1040.5,1573.5 1000.2,1553.5 930.0,1571.0"/><polygon fill="#00008f" points="1010.5,1615.0 1080.7,1593.4 1040.5,1573.5 970.2,1593.0"/><polygon fill="#00008f" points="1050.8,1637.0 1121.0,1613.3 1080.7,1593.4 1010.5,1615.0"/><polygon fill="#00008f" points="1091.0,1659.0 1161.2,1633.3 1121.0,1613.3 1050.8,1637.0"/></g>
<line class="ax" x1="286.0" y1="1306.0" x2="286.0" y2="460.0"/>
<line class="ax" x1="286.0" y1="1306.0" x2="1091.0" y2="1694.0"/>
<line class="ax" x1="1091.0" y1="1694.0" x2="2144.5" y2="1397.5"/>
<line class="ax" x1="286.0" y1="1306.0" x2="260.8" y2="1293.9"/>
<line class="ax" x1="286.0" y1="1165.0" x2="260.8" y2="1152.9"/>
<line class="ax" x1="286.0" y1="1024.0" x2="260.8" y2="1011.9"/>
<line class="ax" x1="286.0" y1="883.0" x2="260.8" y2="870.9"/>
<line class="ax" x1="286.0" y1="742.0" x2="260.8" y2="729.9"/>
<line class="ax" x1="286.0" y1="601.0" x2="260.8" y2="588.9"/>
<line class="ax" x1="286.0" y1="460.0" x2="260.8" y2="447.9"/>
<line class="ax" x1="1091.0" y1="1694.0" x2="1064.0" y2="1701.6"/>
<line class="ax" x1="889.8" y1="1597.0" x2="862.8" y2="1604.6"/>
<line class="ax" x1="688.5" y1="1500.0" x2="661.5" y2="1507.6"/>
<line class="ax" x1="487.2" y1="1403.0" x2="460.3" y2="1410.6"/>
<line class="ax" x1="286.0" y1="1306.0" x2="259.0" y2="1313.6"/>
<line class="ax" x1="1091.0" y1="1694.0" x2="1116.2" y2="1706.1"/>
<line class="ax" x1="1442.2" y1="1595.2" x2="1467.4" y2="1607.3"/>
<line class="ax" x1="1793.3" y1="1496.3" x2="1818.6" y2="1508.4"/>
<line class="ax" x1="2144.5" y1="1397.5" x2="2169.7" y2="1409.6"/>
<path class="mk" d="M875.7 1554.8H901.7M888.7 1541.8V1567.8M880.6 1546.7L896.8 1562.9M880.6 1562.9L896.8 1546.7"/>
<circle cx="888.7" cy="1554.8" r="4.7" fill="#ff00ff"/>
<path class="mk" d="M915.5 1571.2H941.5M928.5 1558.2V1584.2M920.4 1563.1L936.6 1579.3M920.4 1579.3L936.6 1563.1"/>
<circle cx="928.5" cy="1571.2" r="4.7" fill="#ff00ff"/>
<path class="mk" d="M953.8 1593.9H979.8M966.8 1580.9V1606.9M958.7 1585.8L974.9 1602.0M958.7 1602.0L974.9 1585.8"/>
<circle cx="966.8" cy="1593.9" r="4.7" fill="#ff00ff"/>
<path class="mk" d="M994.0 1612.2H1020.0M1007.0 1599.2V1625.2M998.9 1604.1L1015.1 1620.3M998.9 1620.3L1015.1 1604.1"/>
<circle cx="1007.0" cy="1612.2" r="4.7" fill="#ff00ff"/>
<path class="mk" d="M1020.7 1620.6H1046.7M1033.7 1607.6V1633.6M1025.6 1612.5L1041.8 1628.7M1025.6 1628.7L1041.8 1612.5"/>
<circle cx="1033.7" cy="1620.6" r="4.7" fill="#ff00ff"/>
<path class="mk" d="M1039.0 1627.3H1065.0M1052.0 1614.3V1640.3M1043.9 1619.2L1060.1 1635.4M1043.9 1635.4L1060.1 1619.2"/>
<circle cx="1052.0" cy="1627.3" r="4.7" fill="#ff00ff"/>
<path class="mk" d="M1067.5 1647.3H1093.5M1080.5 1634.3V1660.3M1072.4 1639.2L1088.6 1655.4M1072.4 1655.4L1088.6 1639.2"/>
<circle cx="1080.5" cy="1647.3" r="4.7" fill="#ff00ff"/>
<path class="mk" d="M482.7 1177.1H508.7M495.7 1164.1V1190.1M487.6 1169.0L503.8 1185.2M487.6 1185.2L503.8 1169.0"/>
<circle cx="495.7" cy="1177.1" r="4.7" fill="#ff00ff"/>
<path class="mk" d="M563.2 1216.9H589.2M576.2 1203.9V1229.9M568.1 1208.8L584.3 1225.0M568.1 1225.0L584.3 1208.8"/>
<circle cx="576.2" cy="1216.9" r="4.7" fill="#ff00ff"/>
<path class="mk" d="M725.1 1300.7H751.1M738.1 1287.7V1313.7M730.0 1292.6L746.2 1308.8M730.0 1308.8L746.2 1292.6"/>
<circle cx="738.1" cy="1300.7" r="4.7" fill="#ff00ff"/>
<path class="mk" d="M804.2 1339.5H830.2M817.2 1326.5V1352.5M809.1 1331.4L825.3 1347.6M809.1 1347.6L825.3 1331.4"/>
<circle cx="817.2" cy="1339.5" r="4.7" fill="#ff00ff"/>
<path class="mk" d="M882.8 1379.3H908.8M895.8 1366.3V1392.3M887.7 1371.2L903.9 1387.4M887.7 1387.4L903.9 1371.2"/>
<circle cx="895.8" cy="1379.3" r="4.7" fill="#ff00ff"/>
<path class="mk" d="M965.5 1420.0H991.5M978.5 1407.0V1433.0M970.4 1411.9L986.6 1428.1M970.4 1428.1L986.6 1411.9"/>
<circle cx="978.5" cy="1420.0" r="4.7" fill="#ff00ff"/>
<path class="mk" d="M1047.4 1461.8H1073.4M1060.4 1448.8V1474.8M1052.3 1453.7L1068.5 1469.9M1052.3 1469.9L1068.5 1453.7"/>
<circle cx="1060.4" cy="1461.8" r="4.7" fill="#ff00ff"/>
<path class="mk" d="M1085.9 1476.9H1111.9M1098.9 1463.9V1489.9M1090.8 1468.8L1107.0 1485.0M1090.8 1485.0L1107.0 1468.8"/>
<circle cx="1098.9" cy="1476.9" r="4.7" fill="#ff00ff"/>
<path class="mk" d="M1122.6 1497.0H1148.6M1135.6 1484.0V1510.0M1127.5 1488.9L1143.7 1505.1M1127.5 1505.1L1143.7 1488.9"/>
<circle cx="1135.6" cy="1497.0" r="4.7" fill="#ff00ff"/>
<path class="mk" d="M1167.7 1517.0H1193.7M1180.7 1504.0V1530.0M1172.6 1508.9L1188.8 1525.1M1172.6 1525.1L1188.8 1508.9"/>
<circle cx="1180.7" cy="1517.0" r="4.7" fill="#ff00ff"/>
<path class="mk" d="M1204.5 1542.0H1230.5M1217.5 1529.0V1555.0M1209.4 1533.9L1225.6 1550.1M1209.4 1550.1L1225.6 1533.9"/>
<circle cx="1217.5" cy="1542.0" r="4.7" fill="#ff00ff"/>
<path class="mk" d="M1251.3 1557.0H1277.3M1264.3 1544.0V1570.0M1256.2 1548.9L1272.4 1565.1M1256.2 1565.1L1272.4 1548.9"/>
<circle cx="1264.3" cy="1557.0" r="4.7" fill="#ff00ff"/>
<path class="mk" d="M1279.7 1573.8H1305.7M1292.7 1560.8V1586.8M1284.6 1565.7L1300.8 1581.9M1284.6 1581.9L1300.8 1565.7"/>
<circle cx="1292.7" cy="1573.8" r="4.7" fill="#ff00ff"/>
<path class="mk" d="M968.2 690.1H994.2M981.2 677.1V703.1M973.1 682.0L989.3 698.2M973.1 698.2L989.3 682.0"/>
<circle cx="981.2" cy="690.1" r="4.7" fill="#ff00ff"/>
<path class="mk" d="M1050.4 758.3H1076.4M1063.4 745.3V771.3M1055.3 750.2L1071.5 766.4M1055.3 766.4L1071.5 750.2"/>
<circle cx="1063.4" cy="758.3" r="4.7" fill="#ff00ff"/>
<path class="mk" d="M1215.3 899.3H1241.3M1228.3 886.3V912.3M1220.2 891.2L1236.4 907.4M1220.2 907.4L1236.4 891.2"/>
<circle cx="1228.3" cy="899.3" r="4.7" fill="#ff00ff"/>
<path class="mk" d="M1295.6 967.5H1321.6M1308.6 954.5V980.5M1300.5 959.4L1316.7 975.6M1300.5 975.6L1316.7 959.4"/>
<circle cx="1308.6" cy="967.5" r="4.7" fill="#ff00ff"/>
<path class="mk" d="M1398.0 1040.0H1408.0M1403.0 1035.0V1045.0M1399.9 1036.9L1406.1 1043.1M1399.9 1043.1L1406.1 1036.9"/>
<path class="mk" d="M1460.9 1107.9H1486.9M1473.9 1094.9V1120.9M1465.8 1099.8L1482.0 1116.0M1465.8 1116.0L1482.0 1099.8"/>
<circle cx="1473.9" cy="1107.9" r="4.7" fill="#ff00ff"/>
<path class="mk" d="M1548.9 1172.6H1558.9M1553.9 1167.6V1177.6M1550.8 1169.5L1557.0 1175.7M1550.8 1175.7L1557.0 1169.5"/>
<path class="mk" d="M1457.0 1312.0H1467.0M1462.0 1307.0V1317.0M1458.9 1308.9L1465.1 1315.1M1458.9 1315.1L1465.1 1308.9"/>
<path class="mk" d="M1485.4 1348.7H1495.4M1490.4 1343.7V1353.7M1487.3 1345.6L1493.5 1351.8M1487.3 1351.8L1493.5 1345.6"/>
<path class="mk" d="M1514.1 1358.8H1540.1M1527.1 1345.8V1371.8M1519.0 1350.7L1535.2 1366.9M1519.0 1366.9L1535.2 1350.7"/>
<circle cx="1527.1" cy="1358.8" r="4.7" fill="#ff00ff"/>
<path class="mk" d="M1560.9 1385.5H1586.9M1573.9 1372.5V1398.5M1565.8 1377.4L1582.0 1393.6M1565.8 1393.6L1582.0 1377.4"/>
<circle cx="1573.9" cy="1385.5" r="4.7" fill="#ff00ff"/>
<path class="mk" d="M1597.7 1408.9H1623.7M1610.7 1395.9V1421.9M1602.6 1400.8L1618.8 1417.0M1602.6 1417.0L1618.8 1400.8"/>
<circle cx="1610.7" cy="1408.9" r="4.7" fill="#ff00ff"/>
<path class="mk" d="M1631.1 1427.3H1657.1M1644.1 1414.3V1440.3M1636.0 1419.2L1652.2 1435.4M1636.0 1435.4L1652.2 1419.2"/>
<circle cx="1644.1" cy="1427.3" r="4.7" fill="#ff00ff"/>
<path class="mk" d="M1494.1 1511.0H1520.1M1507.1 1498.0V1524.0M1499.0 1502.9L1515.2 1519.1M1499.0 1519.1L1515.2 1502.9"/>
<circle cx="1507.1" cy="1511.0" r="4.7" fill="#ff00ff"/>
<path class="mk" d="M1475.3 1482.4H1485.3M1480.3 1477.4V1487.4M1477.2 1479.3L1483.4 1485.5M1477.2 1485.5L1483.4 1479.3"/>
<path class="mk" d="M1661.0 600.3H1687.0M1674.0 587.3V613.3M1665.9 592.2L1682.1 608.4M1665.9 608.4L1682.1 592.2"/>
<circle cx="1674.0" cy="600.3" r="4.7" fill="#ff00ff"/>
<path class="mk" d="M1731.8 673.9H1757.8M1744.8 660.9V686.9M1736.7 665.8L1752.9 682.0M1736.7 682.0L1752.9 665.8"/>
<circle cx="1744.8" cy="673.9" r="4.7" fill="#ff00ff"/>
<path class="mk" d="M1816.1 744.7H1842.1M1829.1 731.7V757.7M1821.0 736.6L1837.2 752.8M1821.0 752.8L1837.2 736.6"/>
<circle cx="1829.1" cy="744.7" r="4.7" fill="#ff00ff"/>
<path class="mk" d="M1858.0 781.6H1884.0M1871.0 768.6V794.6M1862.9 773.5L1879.1 789.7M1862.9 789.7L1879.1 773.5"/>
<circle cx="1871.0" cy="781.6" r="4.7" fill="#ff00ff"/>
<path class="mk" d="M1898.0 815.5H1924.0M1911.0 802.5V828.5M1902.9 807.4L1919.1 823.6M1902.9 823.6L1919.1 807.4"/>
<circle cx="1911.0" cy="815.5" r="4.7" fill="#ff00ff"/>
<path class="mk" d="M1936.8 852.4H1962.8M1949.8 839.4V865.4M1941.7 844.3L1957.9 860.5M1941.7 860.5L1957.9 844.3"/>
<circle cx="1949.8" cy="852.4" r="4.7" fill="#ff00ff"/>
<path class="mk" d="M1979.3 883.2H2005.3M1992.3 870.2V896.2M1984.2 875.1L2000.4 891.3M1984.2 891.3L2000.4 875.1"/>
<circle cx="1992.3" cy="883.2" r="4.7" fill="#ff00ff"/>
<path class="mk" d="M2021.1 917.0H2047.1M2034.1 904.0V930.0M2026.0 908.9L2042.2 925.1M2026.0 925.1L2042.2 908.9"/>
<circle cx="2034.1" cy="917.0" r="4.7" fill="#ff00ff"/>
<path class="mk" d="M2053.1 946.0H2079.1M2066.1 933.0V959.0M2058.0 937.9L2074.2 954.1M2058.0 954.1L2074.2 937.9"/>
<circle cx="2066.1" cy="946.0" r="4.7" fill="#ff00ff"/>
</g>
<ellipse cx="34" cy="1993" rx="4" ry="6.5" fill="#ffdd95"/><rect x="0" y="2456" width="2" height="42" fill="#fffbdc"/>
<g id="plotB">
<line class="gb" x1="278.5" y1="3147.4" x2="1302.4" y2="2870.0"/>
<line class="gb" x1="1302.4" y1="2870.0" x2="2089.5" y2="3229.5"/>
<line class="gb" x1="278.5" y1="2989.5" x2="1302.4" y2="2712.1"/>
<line class="gb" x1="1302.4" y1="2712.1" x2="2089.5" y2="3071.6"/>
<line class="gb" x1="278.5" y1="2831.5" x2="1302.4" y2="2554.1"/>
<line class="gb" x1="1302.4" y1="2554.1" x2="2089.5" y2="2913.6"/>
<line class="gb" x1="278.5" y1="2673.6" x2="1302.4" y2="2396.2"/>
<line class="gb" x1="1302.4" y1="2396.2" x2="2089.5" y2="2755.7"/>
<line class="gb" x1="278.5" y1="2515.6" x2="1302.4" y2="2238.2"/>
<line class="gb" x1="1302.4" y1="2238.2" x2="2089.5" y2="2597.7"/>
<line class="gb" x1="278.5" y1="2357.7" x2="1302.4" y2="2080.3"/>
<line class="gb" x1="1302.4" y1="2080.3" x2="2089.5" y2="2439.8"/>
<line class="gb" x1="534.5" y1="2288.4" x2="534.5" y2="3078.1"/>
<line class="gb" x1="534.5" y1="3078.1" x2="1321.1" y2="3438.4"/>
<line class="gb" x1="790.5" y1="2219.0" x2="790.5" y2="3008.7"/>
<line class="gb" x1="790.5" y1="3008.7" x2="1577.2" y2="3368.8"/>
<line class="gb" x1="1046.4" y1="2149.6" x2="1046.4" y2="2939.3"/>
<line class="gb" x1="1046.4" y1="2939.3" x2="1833.4" y2="3299.1"/>
<line class="gb" x1="1302.4" y1="2080.3" x2="1302.4" y2="2870.0"/>
<line class="gb" x1="2089.5" y1="2439.8" x2="2089.5" y2="3229.5"/>
<line class="gb" x1="1827.1" y1="2320.0" x2="1827.1" y2="3109.7"/>
<line class="gb" x1="1827.1" y1="3109.7" x2="802.8" y2="3387.8"/>
<line class="gb" x1="1564.8" y1="2200.1" x2="1564.8" y2="2989.8"/>
<line class="gb" x1="1564.8" y1="2989.8" x2="540.7" y2="3267.6"/>
<path class="mk" d="M1153.0 2250.0H1179.0M1166.0 2237.0V2263.0M1157.9 2241.9L1174.1 2258.1M1157.9 2258.1L1174.1 2241.9"/>
<circle cx="1166.0" cy="2250.0" r="4.7" fill="#ff00ff"/>
<path class="mk" d="M646.0 2770.0H672.0M659.0 2757.0V2783.0M650.9 2761.9L667.1 2778.1M650.9 2778.1L667.1 2761.9"/>
<circle cx="659.0" cy="2770.0" r="4.7" fill="#ff00ff"/>
<g class="fb"><polygon fill="#ef0000" points="1214.4,2335.5 1240.0,2275.2 1174.4,2231.5 1148.8,2293.2"/><polygon fill="#ff0000" points="1280.0,2377.9 1305.6,2318.9 1240.0,2275.2 1214.4,2335.5"/><polygon fill="#ff1000" points="1345.6,2420.2 1371.2,2362.6 1305.6,2318.9 1280.0,2377.9"/><polygon fill="#ff3000" points="1411.2,2462.7 1436.8,2406.4 1371.2,2362.6 1345.6,2420.2"/><polygon fill="#ff4000" points="1476.7,2505.1 1502.3,2450.2 1436.8,2406.4 1411.2,2462.7"/><polygon fill="#ff5000" points="1542.3,2547.4 1567.9,2493.9 1502.3,2450.2 1476.7,2505.1"/><polygon fill="#ff6000" points="1607.9,2589.8 1633.5,2537.6 1567.9,2493.9 1542.3,2547.4"/><polygon fill="#ff7000" points="1673.5,2632.1 1699.1,2581.3 1633.5,2537.6 1607.9,2589.8"/><polygon fill="#ff8f00" points="1739.1,2674.5 1764.7,2625.0 1699.1,2581.3 1673.5,2632.1"/><polygon fill="#ff3000" points="1188.8,2380.5 1214.4,2335.5 1148.8,2293.2 1123.2,2338.6"/><polygon fill="#ff4000" points="1254.4,2422.4 1280.0,2377.9 1214.4,2335.5 1188.8,2380.5"/><polygon fill="#ff5000" points="1320.0,2464.4 1345.6,2420.2 1280.0,2377.9 1254.4,2422.4"/><polygon fill="#ff6000" points="1385.5,2506.3 1411.2,2462.7 1345.6,2420.2 1320.0,2464.4"/><polygon fill="#ff7000" points="1451.1,2548.3 1476.7,2505.1 1411.2,2462.7 1385.5,2506.3"/><polygon fill="#ff8000" points="1516.7,2590.2 1542.3,2547.4 1476.7,2505.1 1451.1,2548.3"/><polygon fill="#ff9f00" points="1582.3,2632.1 1607.9,2589.8 1542.3,2547.4 1516.7,2590.2"/><polygon fill="#ffaf00" points="1647.9,2674.0 1673.5,2632.1 1607.9,2589.8 1582.3,2632.1"/><polygon fill="#ffbf00" points="1713.5,2715.9 1739.1,2674.5 1673.5,2632.1 1647.9,2674.0"/><polygon fill="#ff5000" points="1163.2,2415.6 1188.8,2380.5 1123.2,2338.6 1097.6,2373.2"/><polygon fill="#ff7000" points="1228.8,2458.0 1254.4,2422.4 1188.8,2380.5 1163.2,2415.6"/><polygon fill="#ff8000" points="1294.4,2500.4 1320.0,2464.4 1254.4,2422.4 1228.8,2458.0"/><polygon fill="#ff8f00" points="1359.9,2542.8 1385.5,2506.3 1320.0,2464.4 1294.4,2500.4"/><polygon fill="#ff9f00" points="1425.5,2585.3 1451.1,2548.3 1385.5,2506.3 1359.9,2542.8"/><polygon fill="#ffaf00" points="1491.1,2627.7 1516.7,2590.2 1451.1,2548.3 1425.5,2585.3"/><polygon fill="#ffbf00" points="1556.7,2670.1 1582.3,2632.1 1516.7,2590.2 1491.1,2627.7"/><polygon fill="#ffdf00" points="1622.3,2712.5 1647.9,2674.0 1582.3,2632.1 1556.7,2670.1"/><polygon fill="#ffef00" points="1687.9,2754.9 1713.5,2715.9 1647.9,2674.0 1622.3,2712.5"/><polygon fill="#ff7000" points="1137.6,2442.0 1163.2,2415.6 1097.6,2373.2 1072.0,2398.8"/><polygon fill="#ff8000" points="1203.2,2485.2 1228.8,2458.0 1163.2,2415.6 1137.6,2442.0"/><polygon fill="#ff9f00" points="1268.8,2528.4 1294.4,2500.4 1228.8,2458.0 1203.2,2485.2"/><polygon fill="#ffaf00" points="1334.3,2571.6 1359.9,2542.8 1294.4,2500.4 1268.8,2528.4"/><polygon fill="#ffbf00" points="1399.9,2614.9 1425.5,2585.3 1359.9,2542.8 1334.3,2571.6"/><polygon fill="#ffdf00" points="1465.5,2658.1 1491.1,2627.7 1425.5,2585.3 1399.9,2614.9"/><polygon fill="#ffef00" points="1531.1,2701.3 1556.7,2670.1 1491.1,2627.7 1465.5,2658.1"/><polygon fill="#ffff00" points="1596.7,2744.5 1622.3,2712.5 1556.7,2670.1 1531.1,2701.3"/><polygon fill="#efff10" points="1662.2,2787.7 1687.9,2754.9 1622.3,2712.5 1596.7,2744.5"/><polygon fill="#ff8f00" points="1112.0,2466.1 1137.6,2442.0 1072.0,2398.8 1046.4,2422.7"/><polygon fill="#ff9f00" points="1177.6,2509.6 1203.2,2485.2 1137.6,2442.0 1112.0,2466.1"/><polygon fill="#ffaf00" points="1243.2,2553.1 1268.8,2528.4 1203.2,2485.2 1177.6,2509.6"/><polygon fill="#ffcf00" points="1308.7,2596.7 1334.3,2571.6 1268.8,2528.4 1243.2,2553.1"/><polygon fill="#ffdf00" points="1374.3,2640.2 1399.9,2614.9 1334.3,2571.6 1308.7,2596.7"/><polygon fill="#ffef00" points="1439.9,2683.7 1465.5,2658.1 1399.9,2614.9 1374.3,2640.2"/><polygon fill="#efff10" points="1505.5,2727.2 1531.1,2701.3 1465.5,2658.1 1439.9,2683.7"/><polygon fill="#dfff20" points="1571.1,2770.7 1596.7,2744.5 1531.1,2701.3 1505.5,2727.2"/><polygon fill="#cfff30" points="1636.6,2814.1 1662.2,2787.7 1596.7,2744.5 1571.1,2770.7"/><polygon fill="#ffaf00" points="1086.4,2494.2 1112.0,2466.1 1046.4,2422.7 1020.8,2451.6"/><polygon fill="#ffbf00" points="1152.0,2536.8 1177.6,2509.6 1112.0,2466.1 1086.4,2494.2"/><polygon fill="#ffcf00" points="1217.6,2579.3 1243.2,2553.1 1177.6,2509.6 1152.0,2536.8"/><polygon fill="#ffdf00" points="1283.1,2622.0 1308.7,2596.7 1243.2,2553.1 1217.6,2579.3"/><polygon fill="#ffff00" points="1348.7,2664.6 1374.3,2640.2 1308.7,2596.7 1283.1,2622.0"/><polygon fill="#efff10" points="1414.3,2707.2 1439.9,2683.7 1374.3,2640.2 1348.7,2664.6"/><polygon fill="#dfff20" points="1479.9,2749.7 1505.5,2727.2 1439.9,2683.7 1414.3,2707.2"/><polygon fill="#cfff30" points="1545.5,2792.3 1571.1,2770.7 1505.5,2727.2 1479.9,2749.7"/><polygon fill="#bfff40" points="1611.0,2834.9 1636.6,2814.1 1571.1,2770.7 1545.5,2792.3"/><polygon fill="#ffbf00" points="1060.8,2515.5 1086.4,2494.2 1020.8,2451.6 995.2,2473.3"/><polygon fill="#ffcf00" points="1126.4,2557.7 1152.0,2536.8 1086.4,2494.2 1060.8,2515.5"/><polygon fill="#ffef00" points="1192.0,2599.9 1217.6,2579.3 1152.0,2536.8 1126.4,2557.7"/><polygon fill="#ffff00" points="1257.5,2642.1 1283.1,2622.0 1217.6,2579.3 1192.0,2599.9"/><polygon fill="#efff10" points="1323.1,2684.3 1348.7,2664.6 1283.1,2622.0 1257.5,2642.1"/><polygon fill="#dfff20" points="1388.7,2726.5 1414.3,2707.2 1348.7,2664.6 1323.1,2684.3"/><polygon fill="#cfff30" points="1454.3,2768.7 1479.9,2749.7 1414.3,2707.2 1388.7,2726.5"/><polygon fill="#bfff40" points="1519.8,2810.9 1545.5,2792.3 1479.9,2749.7 1454.3,2768.7"/><polygon fill="#9fff60" points="1585.4,2853.1 1611.0,2834.9 1545.5,2792.3 1519.8,2810.9"/><polygon fill="#ffcf00" points="1035.2,2532.5 1060.8,2515.5 995.2,2473.3 969.6,2490.3"/><polygon fill="#ffdf00" points="1100.8,2574.6 1126.4,2557.7 1060.8,2515.5 1035.2,2532.5"/><polygon fill="#ffff00" points="1166.4,2616.8 1192.0,2599.9 1126.4,2557.7 1100.8,2574.6"/><polygon fill="#efff10" points="1231.9,2659.1 1257.5,2642.1 1192.0,2599.9 1166.4,2616.8"/><polygon fill="#dfff20" points="1297.5,2701.3 1323.1,2684.3 1257.5,2642.1 1231.9,2659.1"/><polygon fill="#cfff30" points="1363.1,2743.5 1388.7,2726.5 1323.1,2684.3 1297.5,2701.3"/><polygon fill="#bfff40" points="1428.7,2785.6 1454.3,2768.7 1388.7,2726.5 1363.1,2743.5"/><polygon fill="#afff50" points="1494.2,2827.8 1519.8,2810.9 1454.3,2768.7 1428.7,2785.6"/><polygon fill="#9fff60" points="1559.8,2870.0 1585.4,2853.1 1519.8,2810.9 1494.2,2827.8"/><polygon fill="#ffdf00" points="1009.6,2548.5 1035.2,2532.5 969.6,2490.3 944.0,2506.2"/><polygon fill="#ffef00" points="1075.2,2590.7 1100.8,2574.6 1035.2,2532.5 1009.6,2548.5"/><polygon fill="#ffff00" points="1140.8,2633.0 1166.4,2616.8 1100.8,2574.6 1075.2,2590.7"/><polygon fill="#dfff20" points="1206.3,2675.3 1231.9,2659.1 1166.4,2616.8 1140.8,2633.0"/><polygon fill="#cfff30" points="1271.9,2717.6 1297.5,2701.3 1231.9,2659.1 1206.3,2675.3"/><polygon fill="#bfff40" points="1337.5,2759.9 1363.1,2743.5 1297.5,2701.3 1271.9,2717.6"/><polygon fill="#afff50" points="1403.1,2802.2 1428.7,2785.6 1363.1,2743.5 1337.5,2759.9"/><polygon fill="#9fff60" points="1468.6,2844.4 1494.2,2827.8 1428.7,2785.6 1403.1,2802.2"/><polygon fill="#8fff70" points="1534.2,2886.7 1559.8,2870.0 1494.2,2827.8 1468.6,2844.4"/><polygon fill="#ffef00" points="984.0,2563.9 1009.6,2548.5 944.0,2506.2 918.4,2521.5"/><polygon fill="#ffff00" points="1049.6,2606.4 1075.2,2590.7 1009.6,2548.5 984.0,2563.9"/><polygon fill="#efff10" points="1115.2,2648.9 1140.8,2633.0 1075.2,2590.7 1049.6,2606.4"/><polygon fill="#dfff20" points="1180.7,2691.4 1206.3,2675.3 1140.8,2633.0 1115.2,2648.9"/><polygon fill="#bfff40" points="1246.3,2733.9 1271.9,2717.6 1206.3,2675.3 1180.7,2691.4"/><polygon fill="#afff50" points="1311.9,2776.4 1337.5,2759.9 1271.9,2717.6 1246.3,2733.9"/><polygon fill="#9fff60" points="1377.4,2818.8 1403.1,2802.2 1337.5,2759.9 1311.9,2776.4"/><polygon fill="#8fff70" points="1443.0,2861.3 1468.6,2844.4 1403.1,2802.2 1377.4,2818.8"/><polygon fill="#80ff80" points="1508.6,2903.7 1534.2,2886.7 1468.6,2844.4 1443.0,2861.3"/><polygon fill="#ffff00" points="958.4,2579.7 984.0,2563.9 918.4,2521.5 892.8,2536.7"/><polygon fill="#efff10" points="1024.0,2622.6 1049.6,2606.4 984.0,2563.9 958.4,2579.7"/><polygon fill="#dfff20" points="1089.6,2665.6 1115.2,2648.9 1049.6,2606.4 1024.0,2622.6"/><polygon fill="#cfff30" points="1155.1,2708.6 1180.7,2691.4 1115.2,2648.9 1089.6,2665.6"/><polygon fill="#afff50" points="1220.7,2751.6 1246.3,2733.9 1180.7,2691.4 1155.1,2708.6"/><polygon fill="#9fff60" points="1286.3,2794.6 1311.9,2776.4 1246.3,2733.9 1220.7,2751.6"/><polygon fill="#8fff70" points="1351.8,2837.6 1377.4,2818.8 1311.9,2776.4 1286.3,2794.6"/><polygon fill="#80ff80" points="1417.4,2880.5 1443.0,2861.3 1377.4,2818.8 1351.8,2837.6"/><polygon fill="#60ff9f" points="1483.0,2923.5 1508.6,2903.7 1443.0,2861.3 1417.4,2880.5"/><polygon fill="#ffff00" points="932.8,2594.3 958.4,2579.7 892.8,2536.7 867.2,2550.8"/><polygon fill="#dfff20" points="998.4,2637.9 1024.0,2622.6 958.4,2579.7 932.8,2594.3"/><polygon fill="#cfff30" points="1064.0,2681.4 1089.6,2665.6 1024.0,2622.6 998.4,2637.9"/><polygon fill="#bfff40" points="1129.5,2725.0 1155.1,2708.6 1089.6,2665.6 1064.0,2681.4"/><polygon fill="#9fff60" points="1195.1,2768.6 1220.7,2751.6 1155.1,2708.6 1129.5,2725.0"/><polygon fill="#8fff70" points="1260.7,2812.2 1286.3,2794.6 1220.7,2751.6 1195.1,2768.6"/><polygon fill="#80ff80" points="1326.2,2855.7 1351.8,2837.6 1286.3,2794.6 1260.7,2812.2"/><polygon fill="#70ff8f" points="1391.8,2899.2 1417.4,2880.5 1351.8,2837.6 1326.2,2855.7"/><polygon fill="#50ffaf" points="1457.4,2942.8 1483.0,2923.5 1417.4,2880.5 1391.8,2899.2"/><polygon fill="#efff10" points="907.2,2609.3 932.8,2594.3 867.2,2550.8 841.6,2565.3"/><polygon fill="#cfff30" points="972.8,2653.3 998.4,2637.9 932.8,2594.3 907.2,2609.3"/><polygon fill="#bfff40" points="1038.4,2697.3 1064.0,2681.4 998.4,2637.9 972.8,2653.3"/><polygon fill="#afff50" points="1103.9,2741.3 1129.5,2725.0 1064.0,2681.4 1038.4,2697.3"/><polygon fill="#8fff70" points="1169.5,2785.4 1195.1,2768.6 1129.5,2725.0 1103.9,2741.3"/><polygon fill="#80ff80" points="1235.1,2829.4 1260.7,2812.2 1195.1,2768.6 1169.5,2785.4"/><polygon fill="#70ff8f" points="1300.6,2873.4 1326.2,2855.7 1260.7,2812.2 1235.1,2829.4"/><polygon fill="#50ffaf" points="1366.2,2917.3 1391.8,2899.2 1326.2,2855.7 1300.6,2873.4"/><polygon fill="#40ffbf" points="1431.8,2961.3 1457.4,2942.8 1391.8,2899.2 1366.2,2917.3"/><polygon fill="#dfff20" points="881.6,2624.2 907.2,2609.3 841.6,2565.3 816.0,2579.9"/><polygon fill="#cfff30" points="947.2,2668.6 972.8,2653.3 907.2,2609.3 881.6,2624.2"/><polygon fill="#afff50" points="1012.8,2713.0 1038.4,2697.3 972.8,2653.3 947.2,2668.6"/><polygon fill="#9fff60" points="1078.3,2757.5 1103.9,2741.3 1038.4,2697.3 1012.8,2713.0"/><polygon fill="#8fff70" points="1143.9,2801.9 1169.5,2785.4 1103.9,2741.3 1078.3,2757.5"/><polygon fill="#70ff8f" points="1209.5,2846.3 1235.1,2829.4 1169.5,2785.4 1143.9,2801.9"/><polygon fill="#60ff9f" points="1275.0,2890.7 1300.6,2873.4 1235.1,2829.4 1209.5,2846.3"/><polygon fill="#40ffbf" points="1340.6,2935.1 1366.2,2917.3 1300.6,2873.4 1275.0,2890.7"/><polygon fill="#30ffcf" points="1406.2,2979.5 1431.8,2961.3 1366.2,2917.3 1340.6,2935.1"/><polygon fill="#cfff30" points="856.0,2639.2 881.6,2624.2 816.0,2579.9 790.5,2594.0"/><polygon fill="#bfff40" points="921.6,2684.4 947.2,2668.6 881.6,2624.2 856.0,2639.2"/><polygon fill="#9fff60" points="987.2,2729.6 1012.8,2713.0 947.2,2668.6 921.6,2684.4"/><polygon fill="#8fff70" points="1052.7,2774.9 1078.3,2757.5 1012.8,2713.0 987.2,2729.6"/><polygon fill="#70ff8f" points="1118.3,2820.1 1143.9,2801.9 1078.3,2757.5 1052.7,2774.9"/><polygon fill="#60ff9f" points="1183.8,2865.4 1209.5,2846.3 1143.9,2801.9 1118.3,2820.1"/><polygon fill="#50ffaf" points="1249.4,2910.5 1275.0,2890.7 1209.5,2846.3 1183.8,2865.4"/><polygon fill="#30ffcf" points="1315.0,2955.7 1340.6,2935.1 1275.0,2890.7 1249.4,2910.5"/><polygon fill="#20ffdf" points="1380.5,3000.9 1406.2,2979.5 1340.6,2935.1 1315.0,2955.7"/><polygon fill="#bfff40" points="830.4,2664.5 856.0,2639.2 790.5,2594.0 764.9,2618.9"/><polygon fill="#9fff60" points="896.0,2710.0 921.6,2684.4 856.0,2639.2 830.4,2664.5"/><polygon fill="#8fff70" points="961.5,2755.6 987.2,2729.6 921.6,2684.4 896.0,2710.0"/><polygon fill="#70ff8f" points="1027.1,2801.2 1052.7,2774.9 987.2,2729.6 961.5,2755.6"/><polygon fill="#60ff9f" points="1092.7,2846.8 1118.3,2820.1 1052.7,2774.9 1027.1,2801.2"/><polygon fill="#40ffbf" points="1158.2,2892.3 1183.8,2865.4 1118.3,2820.1 1092.7,2846.8"/><polygon fill="#30ffcf" points="1223.8,2937.9 1249.4,2910.5 1183.8,2865.4 1158.2,2892.3"/><polygon fill="#10ffef" points="1289.4,2983.4 1315.0,2955.7 1249.4,2910.5 1223.8,2937.9"/><polygon fill="#00ffff" points="1354.9,3029.0 1380.5,3000.9 1315.0,2955.7 1289.4,2983.4"/><polygon fill="#9fff60" points="804.8,2691.6 830.4,2664.5 764.9,2618.9 739.3,2646.0"/><polygon fill="#80ff80" points="870.4,2737.2 896.0,2710.0 830.4,2664.5 804.8,2691.6"/><polygon fill="#70ff8f" points="935.9,2782.9 961.5,2755.6 896.0,2710.0 870.4,2737.2"/><polygon fill="#50ffaf" points="1001.5,2828.6 1027.1,2801.2 961.5,2755.6 935.9,2782.9"/><polygon fill="#40ffbf" points="1067.1,2874.3 1092.7,2846.8 1027.1,2801.2 1001.5,2828.6"/><polygon fill="#20ffdf" points="1132.6,2919.9 1158.2,2892.3 1092.7,2846.8 1067.1,2874.3"/><polygon fill="#10ffef" points="1198.2,2965.5 1223.8,2937.9 1158.2,2892.3 1132.6,2919.9"/><polygon fill="#00efff" points="1263.8,3011.2 1289.4,2983.4 1223.8,2937.9 1198.2,2965.5"/><polygon fill="#00dfff" points="1329.3,3056.8 1354.9,3029.0 1289.4,2983.4 1263.8,3011.2"/><polygon fill="#70ff8f" points="779.2,2724.0 804.8,2691.6 739.3,2646.0 713.7,2677.5"/><polygon fill="#60ff9f" points="844.8,2770.4 870.4,2737.2 804.8,2691.6 779.2,2724.0"/><polygon fill="#40ffbf" points="910.3,2816.9 935.9,2782.9 870.4,2737.2 844.8,2770.4"/><polygon fill="#20ffdf" points="975.9,2863.5 1001.5,2828.6 935.9,2782.9 910.3,2816.9"/><polygon fill="#10ffef" points="1041.5,2910.1 1067.1,2874.3 1001.5,2828.6 975.9,2863.5"/><polygon fill="#00efff" points="1107.0,2956.5 1132.6,2919.9 1067.1,2874.3 1041.5,2910.1"/><polygon fill="#00dfff" points="1172.6,3003.0 1198.2,2965.5 1132.6,2919.9 1107.0,2956.5"/><polygon fill="#00bfff" points="1238.2,3049.5 1263.8,3011.2 1198.2,2965.5 1172.6,3003.0"/><polygon fill="#00afff" points="1303.7,3096.0 1329.3,3056.8 1263.8,3011.2 1238.2,3049.5"/><polygon fill="#40ffbf" points="753.6,2763.8 779.2,2724.0 713.7,2677.5 688.1,2716.8"/><polygon fill="#20ffdf" points="819.2,2810.8 844.8,2770.4 779.2,2724.0 753.6,2763.8"/><polygon fill="#10ffef" points="884.7,2857.9 910.3,2816.9 844.8,2770.4 819.2,2810.8"/><polygon fill="#00efff" points="950.3,2905.0 975.9,2863.5 910.3,2816.9 884.7,2857.9"/><polygon fill="#00dfff" points="1015.9,2952.2 1041.5,2910.1 975.9,2863.5 950.3,2905.0"/><polygon fill="#00bfff" points="1081.4,2999.2 1107.0,2956.5 1041.5,2910.1 1015.9,2952.2"/><polygon fill="#009fff" points="1147.0,3046.2 1172.6,3003.0 1107.0,2956.5 1081.4,2999.2"/><polygon fill="#008fff" points="1212.6,3093.3 1238.2,3049.5 1172.6,3003.0 1147.0,3046.2"/><polygon fill="#0070ff" points="1278.1,3140.3 1303.7,3096.0 1238.2,3049.5 1212.6,3093.3"/><polygon fill="#10ffef" points="728.0,2806.0 753.6,2763.8 688.1,2716.8 662.5,2758.3"/><polygon fill="#00efff" points="793.6,2853.7 819.2,2810.8 753.6,2763.8 728.0,2806.0"/><polygon fill="#00cfff" points="859.1,2901.5 884.7,2857.9 819.2,2810.8 793.6,2853.7"/><polygon fill="#00bfff" points="924.7,2949.4 950.3,2905.0 884.7,2857.9 859.1,2901.5"/><polygon fill="#009fff" points="990.3,2997.2 1015.9,2952.2 950.3,2905.0 924.7,2949.4"/><polygon fill="#0080ff" points="1055.8,3045.0 1081.4,2999.2 1015.9,2952.2 990.3,2997.2"/><polygon fill="#0070ff" points="1121.4,3092.7 1147.0,3046.2 1081.4,2999.2 1055.8,3045.0"/><polygon fill="#0050ff" points="1186.9,3140.5 1212.6,3093.3 1147.0,3046.2 1121.4,3092.7"/><polygon fill="#0030ff" points="1252.5,3188.2 1278.1,3140.3 1212.6,3093.3 1186.9,3140.5"/><polygon fill="#00cfff" points="702.4,2847.3 728.0,2806.0 662.5,2758.3 636.9,2800.1"/><polygon fill="#00bfff" points="768.0,2894.6 793.6,2853.7 728.0,2806.0 702.4,2847.3"/><polygon fill="#009fff" points="833.5,2941.9 859.1,2901.5 793.6,2853.7 768.0,2894.6"/><polygon fill="#008fff" points="899.1,2989.2 924.7,2949.4 859.1,2901.5 833.5,2941.9"/><polygon fill="#0070ff" points="964.7,3036.5 990.3,2997.2 924.7,2949.4 899.1,2989.2"/><polygon fill="#0050ff" points="1030.2,3083.8 1055.8,3045.0 990.3,2997.2 964.7,3036.5"/><polygon fill="#0040ff" points="1095.8,3131.1 1121.4,3092.7 1055.8,3045.0 1030.2,3083.8"/><polygon fill="#0020ff" points="1161.3,3178.3 1186.9,3140.5 1121.4,3092.7 1095.8,3131.1"/><polygon fill="#0000ff" points="1226.9,3225.6 1252.5,3188.2 1186.9,3140.5 1161.3,3178.3"/><polygon fill="#00afff" points="676.8,2880.2 702.4,2847.3 636.9,2800.1 611.3,2833.8"/><polygon fill="#008fff" points="742.4,2926.5 768.0,2894.6 702.4,2847.3 676.8,2880.2"/><polygon fill="#0080ff" points="807.9,2972.8 833.5,2941.9 768.0,2894.6 742.4,2926.5"/><polygon fill="#0060ff" points="873.5,3019.2 899.1,2989.2 833.5,2941.9 807.9,2972.8"/><polygon fill="#0050ff" points="939.1,3065.7 964.7,3036.5 899.1,2989.2 873.5,3019.2"/><polygon fill="#0030ff" points="1004.6,3112.0 1030.2,3083.8 964.7,3036.5 939.1,3065.7"/><polygon fill="#0020ff" points="1070.2,3158.3 1095.8,3131.1 1030.2,3083.8 1004.6,3112.0"/><polygon fill="#0000ff" points="1135.7,3204.7 1161.3,3178.3 1095.8,3131.1 1070.2,3158.3"/><polygon fill="#0000ef" points="1201.3,3251.0 1226.9,3225.6 1161.3,3178.3 1135.7,3204.7"/><polygon fill="#008fff" points="651.2,2905.5 676.8,2880.2 611.3,2833.8 585.7,2860.0"/><polygon fill="#0080ff" points="716.8,2951.0 742.4,2926.5 676.8,2880.2 651.2,2905.5"/><polygon fill="#0060ff" points="782.3,2996.5 807.9,2972.8 742.4,2926.5 716.8,2951.0"/><polygon fill="#0050ff" points="847.9,3042.1 873.5,3019.2 807.9,2972.8 782.3,2996.5"/><polygon fill="#0030ff" points="913.5,3087.7 939.1,3065.7 873.5,3019.2 847.9,3042.1"/><polygon fill="#0020ff" points="979.0,3133.2 1004.6,3112.0 939.1,3065.7 913.5,3087.7"/><polygon fill="#0000ff" points="1044.6,3178.7 1070.2,3158.3 1004.6,3112.0 979.0,3133.2"/><polygon fill="#0000ef" points="1110.1,3224.2 1135.7,3204.7 1070.2,3158.3 1044.6,3178.7"/><polygon fill="#0000cf" points="1175.7,3269.7 1201.3,3251.0 1135.7,3204.7 1110.1,3224.2"/><polygon fill="#0080ff" points="625.6,2925.0 651.2,2905.5 585.7,2860.0 560.1,2879.8"/><polygon fill="#0070ff" points="691.2,2970.1 716.8,2951.0 651.2,2905.5 625.6,2925.0"/><polygon fill="#0050ff" points="756.7,3015.3 782.3,2996.5 716.8,2951.0 691.2,2970.1"/><polygon fill="#0040ff" points="822.3,3060.6 847.9,3042.1 782.3,2996.5 756.7,3015.3"/><polygon fill="#0020ff" points="887.8,3105.8 913.5,3087.7 847.9,3042.1 822.3,3060.6"/><polygon fill="#0010ff" points="953.4,3151.0 979.0,3133.2 913.5,3087.7 887.8,3105.8"/><polygon fill="#0000ef" points="1019.0,3196.1 1044.6,3178.7 979.0,3133.2 953.4,3151.0"/><polygon fill="#0000df" points="1084.5,3241.3 1110.1,3224.2 1044.6,3178.7 1019.0,3196.1"/><polygon fill="#0000cf" points="1150.1,3286.4 1175.7,3269.7 1110.1,3224.2 1084.5,3241.3"/><polygon fill="#0070ff" points="600.0,2940.7 625.6,2925.0 560.1,2879.8 534.5,2895.7"/><polygon fill="#0060ff" points="665.6,2985.6 691.2,2970.1 625.6,2925.0 600.0,2940.7"/><polygon fill="#0040ff" points="731.1,3030.5 756.7,3015.3 691.2,2970.1 665.6,2985.6"/><polygon fill="#0030ff" points="796.7,3075.5 822.3,3060.6 756.7,3015.3 731.1,3030.5"/><polygon fill="#0020ff" points="862.2,3120.5 887.8,3105.8 822.3,3060.6 796.7,3075.5"/><polygon fill="#0000ff" points="927.8,3165.4 953.4,3151.0 887.8,3105.8 862.2,3120.5"/><polygon fill="#0000ef" points="993.4,3210.4 1019.0,3196.1 953.4,3151.0 927.8,3165.4"/><polygon fill="#0000cf" points="1058.9,3255.3 1084.5,3241.3 1019.0,3196.1 993.4,3210.4"/><polygon fill="#0000bf" points="1124.5,3300.2 1150.1,3286.4 1084.5,3241.3 1058.9,3255.3"/><polygon fill="#0070ff" points="574.4,2954.3 600.0,2940.7 534.5,2895.7 508.9,2909.5"/><polygon fill="#0050ff" points="640.0,2999.2 665.6,2985.6 600.0,2940.7 574.4,2954.3"/><polygon fill="#0040ff" points="705.5,3044.0 731.1,3030.5 665.6,2985.6 640.0,2999.2"/><polygon fill="#0020ff" points="771.1,3088.9 796.7,3075.5 731.1,3030.5 705.5,3044.0"/><polygon fill="#0010ff" points="836.6,3133.8 862.2,3120.5 796.7,3075.5 771.1,3088.9"/><polygon fill="#0000ff" points="902.2,3178.6 927.8,3165.4 862.2,3120.5 836.6,3133.8"/><polygon fill="#0000df" points="967.7,3223.4 993.4,3210.4 927.8,3165.4 902.2,3178.6"/><polygon fill="#0000cf" points="1033.3,3268.2 1058.9,3255.3 993.4,3210.4 967.7,3223.4"/><polygon fill="#0000af" points="1098.9,3313.1 1124.5,3300.2 1058.9,3255.3 1033.3,3268.2"/><polygon fill="#0060ff" points="548.8,2967.0 574.4,2954.3 508.9,2909.5 483.3,2922.4"/><polygon fill="#0050ff" points="614.4,3011.6 640.0,2999.2 574.4,2954.3 548.8,2967.0"/><polygon fill="#0030ff" points="679.9,3056.2 705.5,3044.0 640.0,2999.2 614.4,3011.6"/><polygon fill="#0020ff" points="745.5,3100.9 771.1,3088.9 705.5,3044.0 679.9,3056.2"/><polygon fill="#0000ff" points="811.0,3145.6 836.6,3133.8 771.1,3088.9 745.5,3100.9"/><polygon fill="#0000ef" points="876.6,3190.2 902.2,3178.6 836.6,3133.8 811.0,3145.6"/><polygon fill="#0000df" points="942.1,3234.8 967.7,3223.4 902.2,3178.6 876.6,3190.2"/><polygon fill="#0000bf" points="1007.7,3279.4 1033.3,3268.2 967.7,3223.4 942.1,3234.8"/><polygon fill="#0000af" points="1073.2,3324.0 1098.9,3313.1 1033.3,3268.2 1007.7,3279.4"/><polygon fill="#0060ff" points="523.2,2979.5 548.8,2967.0 483.3,2922.4 457.7,2935.0"/><polygon fill="#0040ff" points="588.8,3023.9 614.4,3011.6 548.8,2967.0 523.2,2979.5"/><polygon fill="#0030ff" points="654.3,3068.4 679.9,3056.2 614.4,3011.6 588.8,3023.9"/><polygon fill="#0010ff" points="719.9,3112.9 745.5,3100.9 679.9,3056.2 654.3,3068.4"/><polygon fill="#0000ff" points="785.4,3157.5 811.0,3145.6 745.5,3100.9 719.9,3112.9"/><polygon fill="#0000ef" points="851.0,3202.0 876.6,3190.2 811.0,3145.6 785.4,3157.5"/><polygon fill="#0000cf" points="916.5,3246.4 942.1,3234.8 876.6,3190.2 851.0,3202.0"/><polygon fill="#0000bf" points="982.1,3290.9 1007.7,3279.4 942.1,3234.8 916.5,3246.4"/><polygon fill="#0000af" points="1047.6,3335.3 1073.2,3324.0 1007.7,3279.4 982.1,3290.9"/><polygon fill="#0050ff" points="497.6,2991.0 523.2,2979.5 457.7,2935.0 432.1,2946.6"/><polygon fill="#0040ff" points="563.2,3035.4 588.8,3023.9 523.2,2979.5 497.6,2991.0"/><polygon fill="#0020ff" points="628.7,3079.8 654.3,3068.4 588.8,3023.9 563.2,3035.4"/><polygon fill="#0010ff" points="694.3,3124.3 719.9,3112.9 654.3,3068.4 628.7,3079.8"/><polygon fill="#0000ff" points="759.8,3168.7 785.4,3157.5 719.9,3112.9 694.3,3124.3"/><polygon fill="#0000df" points="825.4,3213.1 851.0,3202.0 785.4,3157.5 759.8,3168.7"/><polygon fill="#0000cf" points="890.9,3257.5 916.5,3246.4 851.0,3202.0 825.4,3213.1"/><polygon fill="#0000bf" points="956.5,3301.9 982.1,3290.9 916.5,3246.4 890.9,3257.5"/><polygon fill="#00009f" points="1022.0,3346.3 1047.6,3335.3 982.1,3290.9 956.5,3301.9"/><polygon fill="#0050ff" points="472.0,3002.4 497.6,2991.0 432.1,2946.6 406.5,2958.3"/><polygon fill="#0030ff" points="537.6,3046.6 563.2,3035.4 497.6,2991.0 472.0,3002.4"/><polygon fill="#0020ff" points="603.1,3090.7 628.7,3079.8 563.2,3035.4 537.6,3046.6"/><polygon fill="#0010ff" points="668.7,3135.0 694.3,3124.3 628.7,3079.8 603.1,3090.7"/><polygon fill="#0000ef" points="734.2,3179.2 759.8,3168.7 694.3,3124.3 668.7,3135.0"/><polygon fill="#0000df" points="799.8,3223.3 825.4,3213.1 759.8,3168.7 734.2,3179.2"/><polygon fill="#0000cf" points="865.3,3267.5 890.9,3257.5 825.4,3213.1 799.8,3223.3"/><polygon fill="#0000af" points="930.9,3311.6 956.5,3301.9 890.9,3257.5 865.3,3267.5"/><polygon fill="#00009f" points="996.4,3355.8 1022.0,3346.3 956.5,3301.9 930.9,3311.6"/><polygon fill="#0040ff" points="446.4,3013.8 472.0,3002.4 406.5,2958.3 380.9,2969.9"/><polygon fill="#0030ff" points="512.0,3057.7 537.6,3046.6 472.0,3002.4 446.4,3013.8"/><polygon fill="#0020ff" points="577.5,3101.6 603.1,3090.7 537.6,3046.6 512.0,3057.7"/><polygon fill="#0000ff" points="643.1,3145.6 668.7,3135.0 603.1,3090.7 577.5,3101.6"/><polygon fill="#0000ef" points="708.6,3189.5 734.2,3179.2 668.7,3135.0 643.1,3145.6"/><polygon fill="#0000df" points="774.2,3233.4 799.8,3223.3 734.2,3179.2 708.6,3189.5"/><polygon fill="#0000bf" points="839.7,3277.3 865.3,3267.5 799.8,3223.3 774.2,3233.4"/><polygon fill="#0000af" points="905.3,3321.2 930.9,3311.6 865.3,3267.5 839.7,3277.3"/><polygon fill="#00009f" points="970.8,3365.1 996.4,3355.8 930.9,3311.6 905.3,3321.2"/><polygon fill="#0040ff" points="420.8,3025.1 446.4,3013.8 380.9,2969.9 355.3,2981.4"/><polygon fill="#0030ff" points="486.4,3068.8 512.0,3057.7 446.4,3013.8 420.8,3025.1"/><polygon fill="#0010ff" points="551.9,3112.5 577.5,3101.6 512.0,3057.7 486.4,3068.8"/><polygon fill="#0000ff" points="617.5,3156.2 643.1,3145.6 577.5,3101.6 551.9,3112.5"/><polygon fill="#0000ef" points="683.0,3200.0 708.6,3189.5 643.1,3145.6 617.5,3156.2"/><polygon fill="#0000cf" points="748.6,3243.6 774.2,3233.4 708.6,3189.5 683.0,3200.0"/><polygon fill="#0000bf" points="814.1,3287.3 839.7,3277.3 774.2,3233.4 748.6,3243.6"/><polygon fill="#0000af" points="879.7,3331.0 905.3,3321.2 839.7,3277.3 814.1,3287.3"/><polygon fill="#00008f" points="945.2,3374.7 970.8,3365.1 905.3,3321.2 879.7,3331.0"/><polygon fill="#0030ff" points="395.2,3035.6 420.8,3025.1 355.3,2981.4 329.7,2992.0"/><polygon fill="#0020ff" points="460.8,3079.3 486.4,3068.8 420.8,3025.1 395.2,3035.6"/><polygon fill="#0010ff" points="526.3,3123.0 551.9,3112.5 486.4,3068.8 460.8,3079.3"/><polygon fill="#0000ff" points="591.9,3166.7 617.5,3156.2 551.9,3112.5 526.3,3123.0"/><polygon fill="#0000df" points="657.4,3210.5 683.0,3200.0 617.5,3156.2 591.9,3166.7"/><polygon fill="#0000cf" points="723.0,3254.2 748.6,3243.6 683.0,3200.0 657.4,3210.5"/><polygon fill="#0000bf" points="788.5,3297.8 814.1,3287.3 748.6,3243.6 723.0,3254.2"/><polygon fill="#00009f" points="854.0,3341.5 879.7,3331.0 814.1,3287.3 788.5,3297.8"/><polygon fill="#00008f" points="919.6,3385.2 945.2,3374.7 879.7,3331.0 854.0,3341.5"/><polygon fill="#0030ff" points="369.6,3047.0 395.2,3035.6 329.7,2992.0 304.1,3003.5"/><polygon fill="#0020ff" points="435.2,3090.6 460.8,3079.3 395.2,3035.6 369.6,3047.0"/><polygon fill="#0000ff" points="500.7,3134.2 526.3,3123.0 460.8,3079.3 435.2,3090.6"/><polygon fill="#0000ef" points="566.3,3177.8 591.9,3166.7 526.3,3123.0 500.7,3134.2"/><polygon fill="#0000df" points="631.8,3221.5 657.4,3210.5 591.9,3166.7 566.3,3177.8"/><polygon fill="#0000cf" points="697.4,3265.1 723.0,3254.2 657.4,3210.5 631.8,3221.5"/><polygon fill="#0000af" points="762.9,3308.6 788.5,3297.8 723.0,3254.2 697.4,3265.1"/><polygon fill="#00009f" points="828.4,3352.2 854.0,3341.5 788.5,3297.8 762.9,3308.6"/><polygon fill="#00008f" points="894.0,3395.8 919.6,3385.2 854.0,3341.5 828.4,3352.2"/><polygon fill="#0030ff" points="344.0,3056.6 369.6,3047.0 304.1,3003.5 278.5,3013.0"/><polygon fill="#0020ff" points="409.6,3100.1 435.2,3090.6 369.6,3047.0 344.0,3056.6"/><polygon fill="#0000ff" points="475.1,3143.7 500.7,3134.2 435.2,3090.6 409.6,3100.1"/><polygon fill="#0000ef" points="540.7,3187.4 566.3,3177.8 500.7,3134.2 475.1,3143.7"/><polygon fill="#0000df" points="606.2,3231.0 631.8,3221.5 566.3,3177.8 540.7,3187.4"/><polygon fill="#0000bf" points="671.8,3274.6 697.4,3265.1 631.8,3221.5 606.2,3231.0"/><polygon fill="#0000af" points="737.3,3318.1 762.9,3308.6 697.4,3265.1 671.8,3274.6"/><polygon fill="#00009f" points="802.8,3361.7 828.4,3352.2 762.9,3308.6 737.3,3318.1"/><polygon fill="#00008f" points="868.4,3405.3 894.0,3395.8 828.4,3352.2 802.8,3361.7"/></g>
<line class="ax" x1="278.5" y1="3147.4" x2="278.5" y2="2357.7"/>
<line class="ax" x1="278.5" y1="3147.4" x2="1065.0" y2="3508.0"/>
<line class="ax" x1="1065.0" y1="3508.0" x2="2089.5" y2="3229.5"/>
<line class="ax" x1="278.5" y1="3147.4" x2="254.9" y2="3136.6"/>
<line class="ax" x1="278.5" y1="2989.5" x2="254.9" y2="2978.7"/>
<line class="ax" x1="278.5" y1="2831.5" x2="254.9" y2="2820.7"/>
<line class="ax" x1="278.5" y1="2673.6" x2="254.9" y2="2662.8"/>
<line class="ax" x1="278.5" y1="2515.6" x2="254.9" y2="2504.8"/>
<line class="ax" x1="278.5" y1="2357.7" x2="254.9" y2="2346.9"/>
<line class="ax" x1="1065.0" y1="3508.0" x2="1039.9" y2="3514.8"/>
<line class="ax" x1="802.8" y1="3387.8" x2="777.7" y2="3394.6"/>
<line class="ax" x1="540.7" y1="3267.6" x2="515.6" y2="3274.4"/>
<line class="ax" x1="278.5" y1="3147.4" x2="253.4" y2="3154.2"/>
<line class="ax" x1="1065.0" y1="3508.0" x2="1088.6" y2="3518.8"/>
<line class="ax" x1="1321.1" y1="3438.4" x2="1344.8" y2="3449.2"/>
<line class="ax" x1="1577.2" y1="3368.8" x2="1600.9" y2="3379.6"/>
<line class="ax" x1="1833.4" y1="3299.1" x2="1857.0" y2="3309.9"/>
<line class="ax" x1="2089.5" y1="3229.5" x2="2113.1" y2="3240.3"/>
<path class="mk" d="M1352.3 2369.3H1378.3M1365.3 2356.3V2382.3M1357.2 2361.2L1373.4 2377.4M1357.2 2377.4L1373.4 2361.2"/>
<circle cx="1365.3" cy="2369.3" r="4.7" fill="#ff00ff"/>
<path class="mk" d="M1488.6 2442.8H1514.6M1501.6 2429.8V2455.8M1493.5 2434.7L1509.7 2450.9M1493.5 2450.9L1509.7 2434.7"/>
<circle cx="1501.6" cy="2442.8" r="4.7" fill="#ff00ff"/>
<path class="mk" d="M1617.5 2530.1H1643.5M1630.5 2517.1V2543.1M1622.4 2522.0L1638.6 2538.2M1622.4 2538.2L1638.6 2522.0"/>
<circle cx="1630.5" cy="2530.1" r="4.7" fill="#ff00ff"/>
<path class="mk" d="M1749.7 2624.8H1775.7M1762.7 2611.8V2637.8M1754.6 2616.7L1770.8 2632.9M1754.6 2632.9L1770.8 2616.7"/>
<circle cx="1762.7" cy="2624.8" r="4.7" fill="#ff00ff"/>
<path class="mk" d="M1033.8 2418.0H1059.8M1046.8 2405.0V2431.0M1038.7 2409.9L1054.9 2426.1M1038.7 2426.1L1054.9 2409.9"/>
<circle cx="1046.8" cy="2418.0" r="4.7" fill="#ff00ff"/>
<path class="mk" d="M1232.3 2544.8H1258.3M1245.3 2531.8V2557.8M1237.2 2536.7L1253.4 2552.9M1237.2 2552.9L1253.4 2536.7"/>
<circle cx="1245.3" cy="2544.8" r="4.7" fill="#ff00ff"/>
<path class="mk" d="M1360.4 2613.0H1386.4M1373.4 2600.0V2626.0M1365.3 2604.9L1381.5 2621.1M1365.3 2621.1L1381.5 2604.9"/>
<circle cx="1373.4" cy="2613.0" r="4.7" fill="#ff00ff"/>
<path class="mk" d="M1489.6 2708.2H1515.6M1502.6 2695.2V2721.2M1494.5 2700.1L1510.7 2716.3M1494.5 2716.3L1510.7 2700.1"/>
<circle cx="1502.6" cy="2708.2" r="4.7" fill="#ff00ff"/>
<path class="mk" d="M1623.0 2793.0H1649.0M1636.0 2780.0V2806.0M1627.9 2784.9L1644.1 2801.1M1627.9 2801.1L1644.1 2784.9"/>
<circle cx="1636.0" cy="2793.0" r="4.7" fill="#ff00ff"/>
<path class="mk" d="M777.9 2593.0H803.9M790.9 2580.0V2606.0M782.8 2584.9L799.0 2601.1M782.8 2601.1L799.0 2584.9"/>
<circle cx="790.9" cy="2593.0" r="4.7" fill="#ff00ff"/>
<path class="mk" d="M1101.4 2642.8H1127.4M1114.4 2629.8V2655.8M1106.3 2634.7L1122.5 2650.9M1106.3 2650.9L1122.5 2634.7"/>
<circle cx="1114.4" cy="2642.8" r="4.7" fill="#ff00ff"/>
<path class="mk" d="M1239.1 2730.3H1249.1M1244.1 2725.3V2735.3M1241.0 2727.2L1247.2 2733.4M1241.0 2733.4L1247.2 2727.2"/>
<path class="mk" d="M1365.5 3011.1H1391.5M1378.5 2998.1V3024.1M1370.4 3003.0L1386.6 3019.2M1370.4 3019.2L1386.6 3003.0"/>
<circle cx="1378.5" cy="3011.1" r="4.7" fill="#ff00ff"/>
<path class="mk" d="M1493.8 2944.1H1519.8M1506.8 2931.1V2957.1M1498.7 2936.0L1514.9 2952.2M1498.7 2952.2L1514.9 2936.0"/>
<circle cx="1506.8" cy="2944.1" r="4.7" fill="#ff00ff"/>
<path class="mk" d="M975.6 2710.3H1001.6M988.6 2697.3V2723.3M980.5 2702.2L996.7 2718.4M980.5 2718.4L996.7 2702.2"/>
<circle cx="988.6" cy="2710.3" r="4.7" fill="#ff00ff"/>
<path class="mk" d="M1104.0 2794.5H1130.0M1117.0 2781.5V2807.5M1108.9 2786.4L1125.1 2802.6M1108.9 2802.6L1125.1 2786.4"/>
<circle cx="1117.0" cy="2794.5" r="4.7" fill="#ff00ff"/>
<path class="mk" d="M1239.6 3188.0H1265.6M1252.6 3175.0V3201.0M1244.5 3179.9L1260.7 3196.1M1244.5 3196.1L1260.7 3179.9"/>
<circle cx="1252.6" cy="3188.0" r="4.7" fill="#ff00ff"/>
<path class="mk" d="M846.1 2881.4H872.1M859.1 2868.4V2894.4M851.0 2873.3L867.2 2889.5M851.0 2889.5L867.2 2873.3"/>
<circle cx="859.1" cy="2881.4" r="4.7" fill="#ff00ff"/>
<path class="mk" d="M974.1 2969.0H1000.1M987.1 2956.0V2982.0M979.0 2960.9L995.2 2977.1M979.0 2977.1L995.2 2960.9"/>
<circle cx="987.1" cy="2969.0" r="4.7" fill="#ff00ff"/>
<path class="mk" d="M723.6 3313.3H749.6M736.6 3300.3V3326.3M728.5 3305.2L744.7 3321.4M728.5 3321.4L744.7 3305.2"/>
<circle cx="736.6" cy="3313.3" r="4.7" fill="#ff00ff"/>
<path class="mk" d="M849.2 3267.7H875.2M862.2 3254.7V3280.7M854.1 3259.6L870.3 3275.8M854.1 3275.8L870.3 3259.6"/>
<circle cx="862.2" cy="3267.7" r="4.7" fill="#ff00ff"/>
<path class="mk" d="M984.5 3208.0H994.5M989.5 3203.0V3213.0M986.4 3204.9L992.6 3211.1M986.4 3211.1L992.6 3204.9"/>
</g>
<text class="ta" text-anchor="end" x="244.9" y="448.0">300</text>
<text class="ta" text-anchor="end" x="244.9" y="589.0">250</text>
<text class="ta" text-anchor="end" x="244.9" y="730.0">200</text>
<text class="ta" text-anchor="end" x="244.9" y="871.0">150</text>
<text class="ta" text-anchor="end" x="244.9" y="1012.0">100</text>
<text class="ta" text-anchor="end" x="244.9" y="1153.0">50</text>
<text class="ta" text-anchor="end" x="244.9" y="1294.0">0</text>
<text class="ta" text-anchor="end" x="242.5" y="1356.2">200</text>
<text class="ta" text-anchor="end" x="437.8" y="1460.5">150</text>
<text class="ta" text-anchor="end" x="645.1" y="1552.1">100</text>
<text class="ta" text-anchor="end" x="847.5" y="1650.1">50</text>
<text class="ta" text-anchor="end" x="1046.1" y="1755.0">0</text>
<text class="ta" text-anchor="end" x="1248.7" y="1755.0">1000</text>
<text class="ta" text-anchor="end" x="1602.5" y="1654.5">1050</text>
<text class="ta" text-anchor="end" x="1955.5" y="1555.2">1100</text>
<text class="ta" text-anchor="end" x="2303.1" y="1460.9">1150</text>
<text class="tb" x="146.8" y="2358.7" textLength="90.0" lengthAdjust="spacingAndGlyphs">250</text>
<text class="tb" x="146.8" y="2521.6" textLength="90.0" lengthAdjust="spacingAndGlyphs">200</text>
<text class="tb" x="146.8" y="2677.6" textLength="90.0" lengthAdjust="spacingAndGlyphs">150</text>
<text class="tb" x="146.8" y="2837.5" textLength="90.0" lengthAdjust="spacingAndGlyphs">100</text>
<text class="tb" x="173.8" y="2993.5" textLength="63.0" lengthAdjust="spacingAndGlyphs">50</text>
<text class="tb" x="201.8" y="3147.9" textLength="35.0" lengthAdjust="spacingAndGlyphs">0</text>
<text class="tb" x="169.0" y="3216.0" textLength="65.0" lengthAdjust="spacingAndGlyphs">60</text>
<text class="tb" x="436.3" y="3334.5" textLength="60.8" lengthAdjust="spacingAndGlyphs">40</text>
<text class="tb" x="695.0" y="3454.5" textLength="62.8" lengthAdjust="spacingAndGlyphs">20</text>
<text class="tb" x="985.8" y="3575.0" textLength="34.0" lengthAdjust="spacingAndGlyphs">0</text>
<text class="tb" x="1094.0" y="3581.5" textLength="93.0" lengthAdjust="spacingAndGlyphs">900</text>
<text class="tb" x="1358.2" y="3514.5" textLength="118.6" lengthAdjust="spacingAndGlyphs">1000</text>
<text class="tb" x="1612.8" y="3442.5" textLength="120.2" lengthAdjust="spacingAndGlyphs">1100</text>
<text class="tb" x="1865.9" y="3375.5" textLength="120.1" lengthAdjust="spacingAndGlyphs">1200</text>
<text class="tb" x="2121.3" y="3305.5" textLength="118.7" lengthAdjust="spacingAndGlyphs">1300</text>
<text class="lab" text-anchor="middle" transform="translate(97.0 885.0) rotate(-90)" x="0" y="0" textLength="207.0" lengthAdjust="spacingAndGlyphs">dγ [µm]</text>
<text class="lab" text-anchor="middle" transform="translate(86.0 2736.5) rotate(-90)" x="0" y="0" textLength="208.0" lengthAdjust="spacingAndGlyphs">dγ [µm]</text>
<text class="lab" x="433.7" y="1647.6" textLength="257.3" lengthAdjust="spacingAndGlyphs">t<tspan class="sub" dy="6">Hold</tspan><tspan dy="-6"> [min]</tspan></text>
<text class="lab" x="1655.2" y="1664.3" textLength="242.0" lengthAdjust="spacingAndGlyphs">T<tspan class="sub" dy="6">Reh</tspan><tspan dy="-6"> [°C]</tspan></text>
<text class="lab" x="337.0" y="3427.5" textLength="254.0" lengthAdjust="spacingAndGlyphs">t<tspan class="sub" dy="6">Hold</tspan><tspan dy="-6"> [min]</tspan></text>
<text class="lab" x="1555.4" y="3536.7" textLength="238.4" lengthAdjust="spacingAndGlyphs">T<tspan class="sub" dy="6">Reh</tspan><tspan dy="-6"> [°C]</tspan></text>
<text class="ttl" x="1183" y="100.3" font-size="80" textLength="418" lengthAdjust="spacingAndGlyphs">C-Mn-Nb-V</text>
<text class="ttl" x="1130" y="2033" font-size="66" textLength="391" lengthAdjust="spacingAndGlyphs">QStE 380 TM</text>
</g>
<text class="cap" y="1904.4"><tspan x="1127.8" font-size="85">(</tspan><tspan x="1156.3" font-size="82" font-weight="bold">a</tspan><tspan x="1196.3" font-size="85">)</tspan></text>
<text class="cap" y="3766.6"><tspan x="1122.8" font-size="85">(</tspan><tspan x="1150.0" font-size="88" font-weight="bold">b</tspan><tspan x="1199.5" font-size="85">)</tspan></text>
</svg>
</body></html>
